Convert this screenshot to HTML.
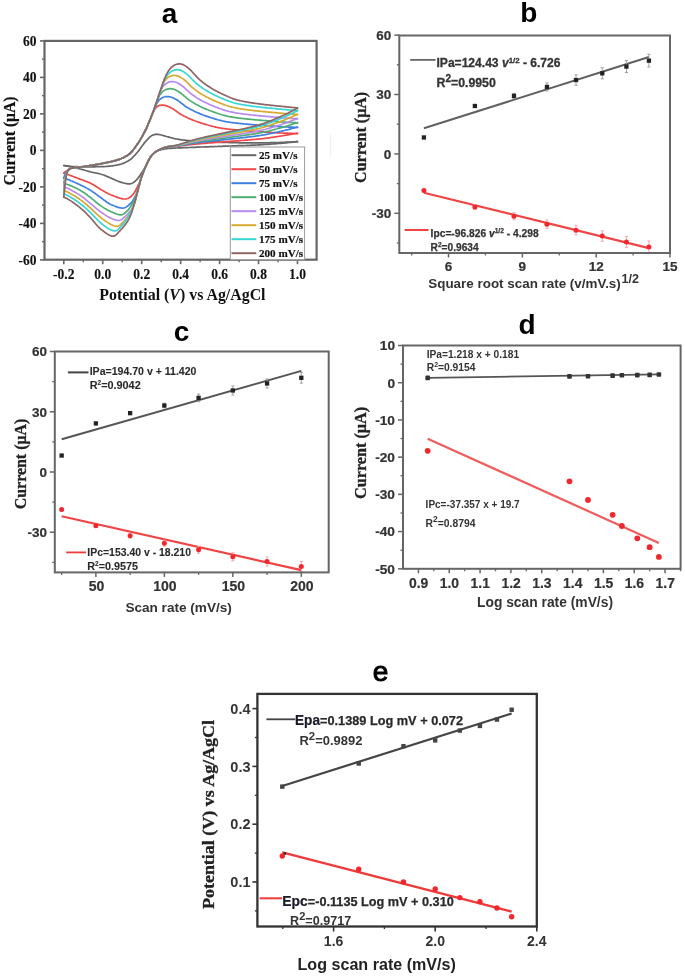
<!DOCTYPE html>
<html><head><meta charset="utf-8"><style>
html,body{margin:0;padding:0;background:#fff;width:685px;height:976px;overflow:hidden;}
svg{display:block;filter:blur(0.55px);}
</style></head><body>
<svg width="685" height="976" viewBox="0 0 685 976">
<rect width="685" height="976" fill="#fff"/>
<text x="169.50" y="22.50" font-family='"Liberation Sans", sans-serif' font-size="28.00" font-weight="bold" text-anchor="middle" fill="#000" >a</text>
<g fill="none" stroke-width="1.7" stroke-linejoin="round" stroke-linecap="round">
<path d="M63.8,165.5 L64.6,165.6 L65.4,165.8 L66.1,165.9 L66.9,166.1 L67.7,166.2 L68.5,166.2 L69.3,166.3 L70.0,166.4 L70.8,166.4 L71.6,166.5 L72.4,166.5 L73.1,166.6 L73.9,166.6 L74.7,166.6 L75.5,166.7 L76.3,166.7 L77.0,166.7 L77.8,166.7 L78.6,166.8 L79.4,166.8 L80.2,166.8 L80.9,166.8 L81.7,166.8 L82.5,166.8 L83.3,166.8 L84.1,166.8 L84.8,166.8 L85.6,166.8 L86.4,166.8 L87.2,166.8 L87.9,166.8 L88.7,166.8 L89.5,166.8 L90.3,166.8 L91.1,166.8 L91.8,166.8 L92.6,166.8 L93.4,166.8 L94.2,166.8 L95.0,166.8 L95.7,166.7 L96.5,166.7 L97.3,166.7 L98.1,166.7 L98.9,166.7 L99.6,166.7 L100.4,166.7 L101.2,166.7 L102.0,166.7 L102.8,166.6 L103.5,166.6 L104.3,166.6 L105.1,166.5 L105.9,166.5 L106.6,166.4 L107.4,166.4 L108.2,166.3 L109.0,166.2 L109.8,166.2 L110.5,166.1 L111.3,166.0 L112.1,165.9 L112.9,165.8 L113.7,165.6 L114.4,165.5 L115.2,165.4 L116.0,165.3 L116.8,165.1 L117.6,165.0 L118.3,164.8 L119.1,164.6 L119.9,164.4 L120.7,164.2 L121.4,164.0 L122.2,163.7 L123.0,163.4 L123.8,163.1 L124.6,162.8 L125.3,162.4 L126.1,162.0 L126.9,161.6 L127.7,161.2 L128.5,160.8 L129.2,160.3 L130.0,159.8 L130.8,159.2 L131.6,158.5 L132.4,157.8 L133.1,157.0 L133.9,156.2 L134.7,155.4 L135.5,154.5 L136.2,153.6 L137.0,152.7 L137.8,151.8 L138.6,150.9 L139.4,149.9 L140.1,148.8 L140.9,147.7 L141.7,146.6 L142.5,145.5 L143.3,144.4 L144.0,143.4 L144.8,142.4 L145.6,141.5 L146.4,140.6 L147.2,139.8 L147.9,138.9 L148.7,138.1 L149.5,137.4 L150.3,136.7 L151.0,136.1 L151.8,135.6 L152.6,135.2 L153.4,134.9 L154.2,134.7 L154.9,134.4 L155.7,134.3 L156.5,134.2 L157.3,134.3 L158.1,134.3 L158.8,134.5 L159.6,134.6 L160.4,134.8 L161.2,135.0 L162.0,135.2 L162.7,135.4 L163.5,135.6 L164.3,135.8 L165.1,136.1 L165.8,136.3 L166.6,136.5 L167.4,136.7 L168.2,136.9 L169.0,137.1 L169.7,137.4 L170.5,137.6 L171.3,137.8 L172.1,138.0 L172.9,138.2 L173.6,138.4 L174.4,138.6 L175.2,138.7 L176.0,138.9 L176.8,139.0 L177.5,139.2 L178.3,139.3 L179.1,139.4 L179.9,139.6 L180.6,139.7 L181.4,139.8 L182.2,139.9 L183.0,140.0 L183.8,140.1 L184.5,140.2 L185.3,140.3 L186.1,140.3 L186.9,140.4 L187.7,140.5 L188.4,140.5 L189.2,140.6 L190.0,140.6 L190.8,140.7 L191.6,140.8 L192.3,140.8 L193.1,140.9 L193.9,140.9 L194.7,141.0 L195.5,141.0 L196.2,141.1 L197.0,141.1 L197.8,141.1 L198.6,141.2 L199.3,141.2 L200.1,141.3 L200.9,141.3 L201.7,141.4 L202.5,141.4 L203.2,141.4 L204.0,141.5 L204.8,141.5 L205.6,141.6 L206.4,141.6 L207.1,141.7 L207.9,141.7 L208.7,141.7 L209.5,141.8 L210.3,141.8 L211.0,141.9 L211.8,141.9 L212.6,141.9 L213.4,142.0 L214.1,142.0 L214.9,142.0 L215.7,142.1 L216.5,142.1 L217.3,142.1 L218.0,142.2 L218.8,142.2 L219.6,142.2 L220.4,142.3 L221.2,142.3 L221.9,142.3 L222.7,142.4 L223.5,142.4 L224.3,142.4 L225.1,142.4 L225.8,142.5 L226.6,142.5 L227.4,142.5 L228.2,142.5 L228.9,142.5 L229.7,142.6 L230.5,142.6 L231.3,142.6 L232.1,142.6 L232.8,142.6 L233.6,142.6 L234.4,142.7 L235.2,142.7 L236.0,142.7 L236.7,142.7 L237.5,142.7 L238.3,142.7 L239.1,142.8 L239.9,142.8 L240.6,142.8 L241.4,142.8 L242.2,142.8 L243.0,142.8 L243.7,142.8 L244.5,142.8 L245.3,142.9 L246.1,142.9 L246.9,142.9 L247.6,142.9 L248.4,142.9 L249.2,142.9 L250.0,142.9 L250.8,142.9 L251.5,142.9 L252.3,142.9 L253.1,142.9 L253.9,142.9 L254.7,142.9 L255.4,142.9 L256.2,142.9 L257.0,142.9 L257.8,142.9 L258.6,142.9 L259.3,142.9 L260.1,142.9 L260.9,142.9 L261.7,142.9 L262.4,142.9 L263.2,142.9 L264.0,142.9 L264.8,142.8 L265.6,142.8 L266.3,142.8 L267.1,142.8 L267.9,142.8 L268.7,142.8 L269.5,142.8 L270.2,142.7 L271.0,142.7 L271.8,142.7 L272.6,142.7 L273.4,142.7 L274.1,142.6 L274.9,142.6 L275.7,142.6 L276.5,142.6 L277.2,142.6 L278.0,142.5 L278.8,142.5 L279.6,142.5 L280.4,142.4 L281.1,142.4 L281.9,142.4 L282.7,142.4 L283.5,142.3 L284.3,142.3 L285.0,142.3 L285.8,142.2 L286.6,142.2 L287.4,142.2 L288.2,142.1 L288.9,142.1 L289.7,142.1 L290.5,142.0 L291.3,142.0 L292.0,141.9 L292.8,141.9 L293.6,141.9 L294.4,141.8 L295.2,141.8 L295.9,141.7 L296.7,141.7 L297.5,141.7" stroke="#666666"/>
<path d="M63.8,165.5 L64.6,165.5 L65.4,165.7 L66.1,165.8 L66.9,166.0 L67.7,166.1 L68.5,166.3 L69.3,166.4 L70.0,166.6 L70.8,166.8 L71.6,166.9 L72.4,167.1 L73.1,167.3 L73.9,167.5 L74.7,167.7 L75.5,167.8 L76.3,168.0 L77.0,168.2 L77.8,168.4 L78.6,168.6 L79.4,168.8 L80.2,169.0 L80.9,169.2 L81.7,169.4 L82.5,169.6 L83.3,169.8 L84.1,170.0 L84.8,170.3 L85.6,170.5 L86.4,170.7 L87.2,171.0 L87.9,171.2 L88.7,171.4 L89.5,171.6 L90.3,171.8 L91.1,172.0 L91.8,172.2 L92.6,172.4 L93.4,172.5 L94.2,172.7 L95.0,172.8 L95.7,173.0 L96.5,173.1 L97.3,173.3 L98.1,173.5 L98.9,173.6 L99.6,173.8 L100.4,174.0 L101.2,174.3 L102.0,174.5 L102.8,174.8 L103.5,175.0 L104.3,175.3 L105.1,175.6 L105.9,175.9 L106.6,176.3 L107.4,176.6 L108.2,176.9 L109.0,177.2 L109.8,177.6 L110.5,177.9 L111.3,178.2 L112.1,178.6 L112.9,178.9 L113.7,179.3 L114.4,179.6 L115.2,180.0 L116.0,180.3 L116.8,180.7 L117.6,181.0 L118.3,181.3 L119.1,181.6 L119.9,181.9 L120.7,182.1 L121.4,182.4 L122.2,182.6 L123.0,182.8 L123.8,183.0 L124.6,183.2 L125.3,183.4 L126.1,183.5 L126.9,183.7 L127.7,183.8 L128.5,183.9 L129.2,183.9 L130.0,183.9 L130.8,183.7 L131.6,183.5 L132.4,183.1 L133.1,182.7 L133.9,182.1 L134.7,181.5 L135.5,180.8 L136.2,180.1 L137.0,179.3 L137.8,178.4 L138.6,177.4 L139.4,176.4 L140.1,175.2 L140.9,174.0 L141.7,172.8 L142.5,171.6 L143.3,170.3 L144.0,169.1 L144.8,167.7 L145.6,166.4 L146.4,165.0 L147.2,163.5 L147.9,162.0 L148.7,160.5 L149.5,159.0 L150.3,157.7 L151.0,156.5 L151.8,155.5 L152.6,154.7 L153.4,153.9 L154.2,153.2 L154.9,152.6 L155.7,152.1 L156.5,151.6 L157.3,151.1 L158.1,150.8 L158.8,150.4 L159.6,150.2 L160.4,149.9 L161.2,149.7 L162.0,149.5 L162.7,149.3 L163.5,149.2 L164.3,149.0 L165.1,148.9 L165.8,148.8 L166.6,148.7 L167.4,148.6 L168.2,148.5 L169.0,148.5 L169.7,148.4 L170.5,148.3 L171.3,148.3 L172.1,148.2 L172.9,148.2 L173.6,148.2 L174.4,148.1 L175.2,148.1 L176.0,148.0 L176.8,148.0 L177.5,148.0 L178.3,147.9 L179.1,147.9 L179.9,147.9 L180.6,147.8 L181.4,147.8 L182.2,147.8 L183.0,147.7 L183.8,147.7 L184.5,147.7 L185.3,147.7 L186.1,147.6 L186.9,147.6 L187.7,147.6 L188.4,147.5 L189.2,147.5 L190.0,147.5 L190.8,147.4 L191.6,147.4 L192.3,147.4 L193.1,147.3 L193.9,147.3 L194.7,147.3 L195.5,147.3 L196.2,147.2 L197.0,147.2 L197.8,147.2 L198.6,147.1 L199.3,147.1 L200.1,147.1 L200.9,147.0 L201.7,147.0 L202.5,147.0 L203.2,147.0 L204.0,146.9 L204.8,146.9 L205.6,146.9 L206.4,146.8 L207.1,146.8 L207.9,146.8 L208.7,146.8 L209.5,146.7 L210.3,146.7 L211.0,146.7 L211.8,146.6 L212.6,146.6 L213.4,146.6 L214.1,146.6 L214.9,146.5 L215.7,146.5 L216.5,146.5 L217.3,146.5 L218.0,146.4 L218.8,146.4 L219.6,146.4 L220.4,146.3 L221.2,146.3 L221.9,146.3 L222.7,146.3 L223.5,146.2 L224.3,146.2 L225.1,146.2 L225.8,146.1 L226.6,146.1 L227.4,146.1 L228.2,146.1 L228.9,146.0 L229.7,146.0 L230.5,146.0 L231.3,146.0 L232.1,145.9 L232.8,145.9 L233.6,145.9 L234.4,145.8 L235.2,145.8 L236.0,145.8 L236.7,145.8 L237.5,145.7 L238.3,145.7 L239.1,145.7 L239.9,145.7 L240.6,145.6 L241.4,145.6 L242.2,145.6 L243.0,145.6 L243.7,145.5 L244.5,145.5 L245.3,145.5 L246.1,145.5 L246.9,145.4 L247.6,145.4 L248.4,145.4 L249.2,145.3 L250.0,145.3 L250.8,145.3 L251.5,145.2 L252.3,145.2 L253.1,145.2 L253.9,145.1 L254.7,145.1 L255.4,145.1 L256.2,145.0 L257.0,145.0 L257.8,144.9 L258.6,144.9 L259.3,144.9 L260.1,144.8 L260.9,144.8 L261.7,144.7 L262.4,144.7 L263.2,144.6 L264.0,144.6 L264.8,144.5 L265.6,144.5 L266.3,144.4 L267.1,144.4 L267.9,144.3 L268.7,144.3 L269.5,144.2 L270.2,144.2 L271.0,144.1 L271.8,144.0 L272.6,144.0 L273.4,143.9 L274.1,143.9 L274.9,143.8 L275.7,143.7 L276.5,143.7 L277.2,143.6 L278.0,143.5 L278.8,143.5 L279.6,143.4 L280.4,143.3 L281.1,143.3 L281.9,143.2 L282.7,143.1 L283.5,143.1 L284.3,143.0 L285.0,142.9 L285.8,142.8 L286.6,142.8 L287.4,142.7 L288.2,142.6 L288.9,142.5 L289.7,142.5 L290.5,142.4 L291.3,142.3 L292.0,142.2 L292.8,142.1 L293.6,142.1 L294.4,142.0 L295.2,141.9 L295.9,141.8 L296.7,141.7 L297.5,141.7" stroke="#666666"/>
<path d="M63.8,173.0 L64.6,172.2 L65.4,171.6 L66.1,171.1 L66.9,170.7 L67.7,170.2 L68.5,169.8 L69.3,169.4 L70.0,168.9 L70.8,168.4 L71.6,168.2 L72.4,168.1 L73.1,167.9 L73.9,167.8 L74.7,167.7 L75.5,167.6 L76.3,167.5 L77.0,167.4 L77.8,167.3 L78.6,167.2 L79.4,167.1 L80.2,167.0 L80.9,167.0 L81.7,166.9 L82.5,166.8 L83.3,166.6 L84.1,166.5 L84.8,166.4 L85.6,166.3 L86.4,166.2 L87.2,166.0 L87.9,165.9 L88.7,165.8 L89.5,165.7 L90.3,165.5 L91.1,165.4 L91.8,165.3 L92.6,165.2 L93.4,165.0 L94.2,164.9 L95.0,164.8 L95.7,164.6 L96.5,164.5 L97.3,164.4 L98.1,164.2 L98.9,164.1 L99.6,164.0 L100.4,163.8 L101.2,163.7 L102.0,163.5 L102.8,163.4 L103.5,163.2 L104.3,163.1 L105.1,162.9 L105.9,162.7 L106.6,162.6 L107.4,162.4 L108.2,162.3 L109.0,162.1 L109.8,161.9 L110.5,161.8 L111.3,161.6 L112.1,161.4 L112.9,161.2 L113.7,161.0 L114.4,160.8 L115.2,160.6 L116.0,160.4 L116.8,160.1 L117.6,159.9 L118.3,159.6 L119.1,159.4 L119.9,159.1 L120.7,158.8 L121.4,158.5 L122.2,158.1 L123.0,157.8 L123.8,157.4 L124.6,157.0 L125.3,156.6 L126.1,156.2 L126.9,155.7 L127.7,155.2 L128.5,154.7 L129.2,154.1 L130.0,153.5 L130.8,152.7 L131.6,151.9 L132.4,151.0 L133.1,150.0 L133.9,149.0 L134.7,147.9 L135.5,146.8 L136.2,145.7 L137.0,144.7 L137.8,143.5 L138.6,142.4 L139.4,141.2 L140.1,139.9 L140.9,138.6 L141.7,137.3 L142.5,135.9 L143.3,134.5 L144.0,133.0 L144.8,131.5 L145.6,130.0 L146.4,128.4 L147.2,126.6 L147.9,124.8 L148.7,123.0 L149.5,121.1 L150.3,119.2 L151.0,117.3 L151.8,115.5 L152.6,113.6 L153.4,111.9 L154.2,110.3 L154.9,109.0 L155.7,107.9 L156.5,107.1 L157.3,106.5 L158.1,106.0 L158.8,105.7 L159.6,105.4 L160.4,105.3 L161.2,105.2 L162.0,105.1 L162.7,105.2 L163.5,105.2 L164.3,105.3 L165.1,105.4 L165.8,105.6 L166.6,105.9 L167.4,106.1 L168.2,106.5 L169.0,106.8 L169.7,107.2 L170.5,107.6 L171.3,107.9 L172.1,108.4 L172.9,108.8 L173.6,109.3 L174.4,109.9 L175.2,110.4 L176.0,111.0 L176.8,111.5 L177.5,112.1 L178.3,112.6 L179.1,113.2 L179.9,113.7 L180.6,114.2 L181.4,114.6 L182.2,115.1 L183.0,115.5 L183.8,115.9 L184.5,116.3 L185.3,116.7 L186.1,117.1 L186.9,117.5 L187.7,117.8 L188.4,118.2 L189.2,118.5 L190.0,118.9 L190.8,119.2 L191.6,119.5 L192.3,119.9 L193.1,120.2 L193.9,120.5 L194.7,120.8 L195.5,121.0 L196.2,121.3 L197.0,121.6 L197.8,121.9 L198.6,122.2 L199.3,122.4 L200.1,122.7 L200.9,122.9 L201.7,123.2 L202.5,123.4 L203.2,123.7 L204.0,123.9 L204.8,124.1 L205.6,124.4 L206.4,124.6 L207.1,124.8 L207.9,125.0 L208.7,125.3 L209.5,125.5 L210.3,125.7 L211.0,125.9 L211.8,126.1 L212.6,126.3 L213.4,126.5 L214.1,126.7 L214.9,126.9 L215.7,127.1 L216.5,127.3 L217.3,127.5 L218.0,127.6 L218.8,127.8 L219.6,127.9 L220.4,128.0 L221.2,128.2 L221.9,128.3 L222.7,128.4 L223.5,128.5 L224.3,128.6 L225.1,128.7 L225.8,128.8 L226.6,128.9 L227.4,129.0 L228.2,129.1 L228.9,129.2 L229.7,129.3 L230.5,129.4 L231.3,129.5 L232.1,129.5 L232.8,129.6 L233.6,129.7 L234.4,129.8 L235.2,129.8 L236.0,129.9 L236.7,130.0 L237.5,130.1 L238.3,130.1 L239.1,130.2 L239.9,130.3 L240.6,130.3 L241.4,130.4 L242.2,130.5 L243.0,130.5 L243.7,130.6 L244.5,130.7 L245.3,130.7 L246.1,130.8 L246.9,130.8 L247.6,130.9 L248.4,130.9 L249.2,131.0 L250.0,131.1 L250.8,131.1 L251.5,131.2 L252.3,131.2 L253.1,131.3 L253.9,131.3 L254.7,131.4 L255.4,131.4 L256.2,131.5 L257.0,131.5 L257.8,131.6 L258.6,131.6 L259.3,131.7 L260.1,131.7 L260.9,131.8 L261.7,131.8 L262.4,131.9 L263.2,131.9 L264.0,132.0 L264.8,132.0 L265.6,132.1 L266.3,132.1 L267.1,132.2 L267.9,132.2 L268.7,132.3 L269.5,132.3 L270.2,132.4 L271.0,132.4 L271.8,132.5 L272.6,132.5 L273.4,132.6 L274.1,132.6 L274.9,132.7 L275.7,132.7 L276.5,132.8 L277.2,132.8 L278.0,132.9 L278.8,132.9 L279.6,132.9 L280.4,133.0 L281.1,133.0 L281.9,133.0 L282.7,133.1 L283.5,133.1 L284.3,133.1 L285.0,133.2 L285.8,133.2 L286.6,133.2 L287.4,133.2 L288.2,133.3 L288.9,133.3 L289.7,133.3 L290.5,133.4 L291.3,133.4 L292.0,133.4 L292.8,133.4 L293.6,133.5 L294.4,133.5 L295.2,133.5 L295.9,133.6 L296.7,133.6 L297.5,133.6" stroke="#f04848"/>
<path d="M63.8,173.2 L64.6,173.4 L65.4,173.6 L66.1,173.9 L66.9,174.2 L67.7,174.5 L68.5,174.8 L69.3,175.0 L70.0,175.3 L70.8,175.6 L71.6,175.9 L72.4,176.2 L73.1,176.5 L73.9,176.8 L74.7,177.1 L75.5,177.4 L76.3,177.7 L77.0,178.0 L77.8,178.3 L78.6,178.6 L79.4,178.9 L80.2,179.2 L80.9,179.4 L81.7,179.7 L82.5,180.0 L83.3,180.3 L84.1,180.6 L84.8,180.9 L85.6,181.2 L86.4,181.5 L87.2,181.8 L87.9,182.1 L88.7,182.4 L89.5,182.7 L90.3,183.1 L91.1,183.5 L91.8,183.9 L92.6,184.3 L93.4,184.8 L94.2,185.3 L95.0,185.7 L95.7,186.2 L96.5,186.8 L97.3,187.3 L98.1,187.8 L98.9,188.3 L99.6,188.7 L100.4,189.2 L101.2,189.7 L102.0,190.1 L102.8,190.6 L103.5,191.0 L104.3,191.5 L105.1,191.9 L105.9,192.4 L106.6,192.8 L107.4,193.2 L108.2,193.6 L109.0,194.0 L109.8,194.3 L110.5,194.7 L111.3,195.0 L112.1,195.3 L112.9,195.6 L113.7,195.9 L114.4,196.2 L115.2,196.5 L116.0,196.8 L116.8,197.1 L117.6,197.4 L118.3,197.7 L119.1,197.9 L119.9,198.2 L120.7,198.4 L121.4,198.6 L122.2,198.7 L123.0,198.9 L123.8,199.0 L124.6,199.0 L125.3,199.0 L126.1,199.0 L126.9,198.8 L127.7,198.5 L128.5,198.2 L129.2,197.8 L130.0,197.3 L130.8,196.7 L131.6,196.0 L132.4,195.2 L133.1,194.3 L133.9,193.3 L134.7,192.0 L135.5,190.7 L136.2,189.2 L137.0,187.6 L137.8,186.0 L138.6,184.3 L139.4,182.6 L140.1,180.8 L140.9,178.9 L141.7,177.0 L142.5,174.9 L143.3,172.8 L144.0,170.7 L144.8,168.7 L145.6,166.7 L146.4,164.9 L147.2,163.2 L147.9,161.6 L148.7,160.0 L149.5,158.6 L150.3,157.3 L151.0,156.2 L151.8,155.2 L152.6,154.3 L153.4,153.6 L154.2,152.9 L154.9,152.3 L155.7,151.7 L156.5,151.2 L157.3,150.7 L158.1,150.3 L158.8,149.9 L159.6,149.5 L160.4,149.1 L161.2,148.8 L162.0,148.4 L162.7,148.1 L163.5,147.8 L164.3,147.5 L165.1,147.3 L165.8,147.1 L166.6,146.9 L167.4,146.8 L168.2,146.7 L169.0,146.7 L169.7,146.6 L170.5,146.6 L171.3,146.5 L172.1,146.5 L172.9,146.5 L173.6,146.4 L174.4,146.4 L175.2,146.3 L176.0,146.3 L176.8,146.2 L177.5,146.1 L178.3,146.0 L179.1,146.0 L179.9,145.9 L180.6,145.8 L181.4,145.7 L182.2,145.6 L183.0,145.5 L183.8,145.4 L184.5,145.3 L185.3,145.2 L186.1,145.1 L186.9,145.0 L187.7,145.0 L188.4,144.9 L189.2,144.8 L190.0,144.7 L190.8,144.6 L191.6,144.5 L192.3,144.5 L193.1,144.4 L193.9,144.3 L194.7,144.2 L195.5,144.2 L196.2,144.1 L197.0,144.0 L197.8,143.9 L198.6,143.9 L199.3,143.8 L200.1,143.7 L200.9,143.7 L201.7,143.6 L202.5,143.5 L203.2,143.5 L204.0,143.4 L204.8,143.3 L205.6,143.3 L206.4,143.2 L207.1,143.2 L207.9,143.1 L208.7,143.0 L209.5,143.0 L210.3,142.9 L211.0,142.8 L211.8,142.8 L212.6,142.7 L213.4,142.7 L214.1,142.6 L214.9,142.6 L215.7,142.5 L216.5,142.4 L217.3,142.4 L218.0,142.3 L218.8,142.3 L219.6,142.2 L220.4,142.1 L221.2,142.1 L221.9,142.0 L222.7,142.0 L223.5,141.9 L224.3,141.8 L225.1,141.8 L225.8,141.7 L226.6,141.7 L227.4,141.6 L228.2,141.5 L228.9,141.5 L229.7,141.4 L230.5,141.4 L231.3,141.3 L232.1,141.2 L232.8,141.2 L233.6,141.1 L234.4,141.1 L235.2,141.0 L236.0,140.9 L236.7,140.9 L237.5,140.8 L238.3,140.8 L239.1,140.7 L239.9,140.7 L240.6,140.6 L241.4,140.5 L242.2,140.5 L243.0,140.4 L243.7,140.4 L244.5,140.3 L245.3,140.2 L246.1,140.2 L246.9,140.1 L247.6,140.1 L248.4,140.0 L249.2,139.9 L250.0,139.9 L250.8,139.8 L251.5,139.7 L252.3,139.7 L253.1,139.6 L253.9,139.5 L254.7,139.5 L255.4,139.4 L256.2,139.3 L257.0,139.2 L257.8,139.2 L258.6,139.1 L259.3,139.0 L260.1,138.9 L260.9,138.8 L261.7,138.8 L262.4,138.7 L263.2,138.6 L264.0,138.5 L264.8,138.4 L265.6,138.3 L266.3,138.2 L267.1,138.1 L267.9,138.0 L268.7,137.9 L269.5,137.8 L270.2,137.6 L271.0,137.5 L271.8,137.4 L272.6,137.3 L273.4,137.2 L274.1,137.1 L274.9,137.0 L275.7,136.8 L276.5,136.7 L277.2,136.6 L278.0,136.5 L278.8,136.4 L279.6,136.2 L280.4,136.1 L281.1,136.0 L281.9,135.9 L282.7,135.7 L283.5,135.6 L284.3,135.5 L285.0,135.3 L285.8,135.2 L286.6,135.1 L287.4,134.9 L288.2,134.8 L288.9,134.7 L289.7,134.5 L290.5,134.4 L291.3,134.2 L292.0,134.1 L292.8,134.0 L293.6,133.8 L294.4,133.7 L295.2,133.5 L295.9,133.4 L296.7,133.3 L297.5,133.2" stroke="#f04848"/>
<path d="M63.8,178.0 L64.6,175.6 L65.4,173.7 L66.1,172.3 L66.9,171.2 L67.7,170.4 L68.5,169.8 L69.3,169.2 L70.0,168.8 L70.8,168.4 L71.6,168.2 L72.4,168.1 L73.1,167.9 L73.9,167.8 L74.7,167.7 L75.5,167.6 L76.3,167.5 L77.0,167.4 L77.8,167.3 L78.6,167.2 L79.4,167.1 L80.2,167.0 L80.9,167.0 L81.7,166.9 L82.5,166.8 L83.3,166.6 L84.1,166.5 L84.8,166.4 L85.6,166.3 L86.4,166.2 L87.2,166.0 L87.9,165.9 L88.7,165.8 L89.5,165.7 L90.3,165.5 L91.1,165.4 L91.8,165.3 L92.6,165.2 L93.4,165.0 L94.2,164.9 L95.0,164.8 L95.7,164.6 L96.5,164.5 L97.3,164.4 L98.1,164.2 L98.9,164.1 L99.6,164.0 L100.4,163.8 L101.2,163.7 L102.0,163.5 L102.8,163.4 L103.5,163.2 L104.3,163.1 L105.1,162.9 L105.9,162.7 L106.6,162.6 L107.4,162.4 L108.2,162.3 L109.0,162.1 L109.8,161.9 L110.5,161.8 L111.3,161.6 L112.1,161.4 L112.9,161.2 L113.7,161.0 L114.4,160.8 L115.2,160.6 L116.0,160.4 L116.8,160.1 L117.6,159.9 L118.3,159.6 L119.1,159.4 L119.9,159.1 L120.7,158.8 L121.4,158.5 L122.2,158.1 L123.0,157.8 L123.8,157.4 L124.6,157.0 L125.3,156.6 L126.1,156.2 L126.9,155.7 L127.7,155.2 L128.5,154.7 L129.2,154.1 L130.0,153.5 L130.8,152.7 L131.6,151.9 L132.4,151.0 L133.1,150.0 L133.9,149.0 L134.7,147.9 L135.5,146.8 L136.2,145.7 L137.0,144.7 L137.8,143.5 L138.6,142.4 L139.4,141.2 L140.1,139.9 L140.9,138.6 L141.7,137.3 L142.5,135.9 L143.3,134.5 L144.0,133.0 L144.8,131.5 L145.6,130.0 L146.4,128.3 L147.2,126.6 L147.9,124.8 L148.7,123.0 L149.5,121.1 L150.3,119.2 L151.0,117.2 L151.8,115.3 L152.6,113.3 L153.4,111.4 L154.2,109.4 L154.9,107.5 L155.7,105.7 L156.5,104.0 L157.3,102.5 L158.1,101.4 L158.8,100.4 L159.6,99.6 L160.4,99.0 L161.2,98.4 L162.0,97.9 L162.7,97.5 L163.5,97.2 L164.3,97.0 L165.1,96.8 L165.8,96.6 L166.6,96.6 L167.4,96.6 L168.2,96.6 L169.0,96.7 L169.7,96.8 L170.5,97.0 L171.3,97.2 L172.1,97.5 L172.9,97.8 L173.6,98.2 L174.4,98.6 L175.2,99.0 L176.0,99.4 L176.8,99.8 L177.5,100.3 L178.3,100.9 L179.1,101.4 L179.9,102.0 L180.6,102.6 L181.4,103.2 L182.2,103.8 L183.0,104.4 L183.8,105.0 L184.5,105.6 L185.3,106.2 L186.1,106.7 L186.9,107.2 L187.7,107.6 L188.4,108.1 L189.2,108.5 L190.0,109.0 L190.8,109.4 L191.6,109.8 L192.3,110.2 L193.1,110.6 L193.9,111.0 L194.7,111.4 L195.5,111.8 L196.2,112.1 L197.0,112.5 L197.8,112.8 L198.6,113.1 L199.3,113.4 L200.1,113.8 L200.9,114.1 L201.7,114.4 L202.5,114.7 L203.2,115.0 L204.0,115.3 L204.8,115.6 L205.6,115.8 L206.4,116.1 L207.1,116.4 L207.9,116.6 L208.7,116.9 L209.5,117.2 L210.3,117.4 L211.0,117.7 L211.8,117.9 L212.6,118.2 L213.4,118.4 L214.1,118.6 L214.9,118.9 L215.7,119.1 L216.5,119.4 L217.3,119.6 L218.0,119.8 L218.8,120.0 L219.6,120.2 L220.4,120.4 L221.2,120.6 L221.9,120.8 L222.7,121.0 L223.5,121.2 L224.3,121.3 L225.1,121.5 L225.8,121.6 L226.6,121.8 L227.4,121.9 L228.2,122.0 L228.9,122.1 L229.7,122.2 L230.5,122.4 L231.3,122.5 L232.1,122.6 L232.8,122.7 L233.6,122.8 L234.4,122.9 L235.2,123.0 L236.0,123.1 L236.7,123.1 L237.5,123.2 L238.3,123.3 L239.1,123.4 L239.9,123.5 L240.6,123.6 L241.4,123.6 L242.2,123.7 L243.0,123.8 L243.7,123.9 L244.5,124.0 L245.3,124.0 L246.1,124.1 L246.9,124.2 L247.6,124.2 L248.4,124.3 L249.2,124.4 L250.0,124.4 L250.8,124.5 L251.5,124.6 L252.3,124.6 L253.1,124.7 L253.9,124.8 L254.7,124.8 L255.4,124.9 L256.2,124.9 L257.0,125.0 L257.8,125.0 L258.6,125.1 L259.3,125.2 L260.1,125.2 L260.9,125.3 L261.7,125.3 L262.4,125.4 L263.2,125.4 L264.0,125.5 L264.8,125.5 L265.6,125.6 L266.3,125.7 L267.1,125.7 L267.9,125.8 L268.7,125.8 L269.5,125.9 L270.2,125.9 L271.0,126.0 L271.8,126.1 L272.6,126.1 L273.4,126.2 L274.1,126.2 L274.9,126.3 L275.7,126.3 L276.5,126.4 L277.2,126.4 L278.0,126.5 L278.8,126.6 L279.6,126.6 L280.4,126.6 L281.1,126.7 L281.9,126.7 L282.7,126.8 L283.5,126.8 L284.3,126.9 L285.0,126.9 L285.8,127.0 L286.6,127.0 L287.4,127.0 L288.2,127.1 L288.9,127.1 L289.7,127.1 L290.5,127.2 L291.3,127.2 L292.0,127.2 L292.8,127.2 L293.6,127.3 L294.4,127.3 L295.2,127.3 L295.9,127.4 L296.7,127.4 L297.5,127.4" stroke="#3f7fe0"/>
<path d="M63.8,178.2 L64.6,178.3 L65.4,178.6 L66.1,178.8 L66.9,179.1 L67.7,179.4 L68.5,179.7 L69.3,180.0 L70.0,180.3 L70.8,180.7 L71.6,181.0 L72.4,181.3 L73.1,181.6 L73.9,182.0 L74.7,182.3 L75.5,182.7 L76.3,183.0 L77.0,183.4 L77.8,183.7 L78.6,184.1 L79.4,184.4 L80.2,184.8 L80.9,185.2 L81.7,185.6 L82.5,185.9 L83.3,186.3 L84.1,186.7 L84.8,187.1 L85.6,187.5 L86.4,187.9 L87.2,188.4 L87.9,188.8 L88.7,189.2 L89.5,189.7 L90.3,190.2 L91.1,190.6 L91.8,191.1 L92.6,191.7 L93.4,192.2 L94.2,192.8 L95.0,193.3 L95.7,193.9 L96.5,194.5 L97.3,195.1 L98.1,195.7 L98.9,196.2 L99.6,196.8 L100.4,197.4 L101.2,198.0 L102.0,198.5 L102.8,199.1 L103.5,199.7 L104.3,200.3 L105.1,200.8 L105.9,201.4 L106.6,202.0 L107.4,202.5 L108.2,203.0 L109.0,203.5 L109.8,203.9 L110.5,204.3 L111.3,204.7 L112.1,205.0 L112.9,205.3 L113.7,205.7 L114.4,206.0 L115.2,206.3 L116.0,206.6 L116.8,206.9 L117.6,207.1 L118.3,207.4 L119.1,207.6 L119.9,207.8 L120.7,207.9 L121.4,208.0 L122.2,208.1 L123.0,208.1 L123.8,208.0 L124.6,207.8 L125.3,207.5 L126.1,207.1 L126.9,206.6 L127.7,206.0 L128.5,205.4 L129.2,204.7 L130.0,204.0 L130.8,203.1 L131.6,202.2 L132.4,201.2 L133.1,200.1 L133.9,198.8 L134.7,197.5 L135.5,196.0 L136.2,194.3 L137.0,192.3 L137.8,190.0 L138.6,187.4 L139.4,184.6 L140.1,181.8 L140.9,179.1 L141.7,176.6 L142.5,174.3 L143.3,172.2 L144.0,170.3 L144.8,168.4 L145.6,166.6 L146.4,164.9 L147.2,163.2 L147.9,161.6 L148.7,160.0 L149.5,158.6 L150.3,157.3 L151.0,156.2 L151.8,155.2 L152.6,154.3 L153.4,153.6 L154.2,152.9 L154.9,152.3 L155.7,151.7 L156.5,151.2 L157.3,150.7 L158.1,150.3 L158.8,149.9 L159.6,149.5 L160.4,149.1 L161.2,148.8 L162.0,148.5 L162.7,148.1 L163.5,147.8 L164.3,147.6 L165.1,147.3 L165.8,147.1 L166.6,147.0 L167.4,146.8 L168.2,146.7 L169.0,146.6 L169.7,146.6 L170.5,146.5 L171.3,146.4 L172.1,146.4 L172.9,146.3 L173.6,146.3 L174.4,146.2 L175.2,146.1 L176.0,146.0 L176.8,145.9 L177.5,145.8 L178.3,145.7 L179.1,145.6 L179.9,145.5 L180.6,145.4 L181.4,145.2 L182.2,145.1 L183.0,145.0 L183.8,144.8 L184.5,144.7 L185.3,144.6 L186.1,144.4 L186.9,144.3 L187.7,144.2 L188.4,144.0 L189.2,143.9 L190.0,143.8 L190.8,143.7 L191.6,143.6 L192.3,143.5 L193.1,143.4 L193.9,143.2 L194.7,143.1 L195.5,143.0 L196.2,142.9 L197.0,142.8 L197.8,142.7 L198.6,142.6 L199.3,142.5 L200.1,142.4 L200.9,142.3 L201.7,142.2 L202.5,142.1 L203.2,142.0 L204.0,141.9 L204.8,141.8 L205.6,141.7 L206.4,141.7 L207.1,141.6 L207.9,141.5 L208.7,141.4 L209.5,141.3 L210.3,141.2 L211.0,141.1 L211.8,141.0 L212.6,141.0 L213.4,140.9 L214.1,140.8 L214.9,140.7 L215.7,140.6 L216.5,140.5 L217.3,140.5 L218.0,140.4 L218.8,140.3 L219.6,140.2 L220.4,140.1 L221.2,140.0 L221.9,139.9 L222.7,139.9 L223.5,139.8 L224.3,139.7 L225.1,139.6 L225.8,139.5 L226.6,139.4 L227.4,139.3 L228.2,139.3 L228.9,139.2 L229.7,139.1 L230.5,139.0 L231.3,138.9 L232.1,138.8 L232.8,138.7 L233.6,138.6 L234.4,138.6 L235.2,138.5 L236.0,138.4 L236.7,138.3 L237.5,138.2 L238.3,138.1 L239.1,138.1 L239.9,138.0 L240.6,137.9 L241.4,137.8 L242.2,137.7 L243.0,137.6 L243.7,137.6 L244.5,137.5 L245.3,137.4 L246.1,137.3 L246.9,137.2 L247.6,137.1 L248.4,137.0 L249.2,136.9 L250.0,136.8 L250.8,136.7 L251.5,136.6 L252.3,136.6 L253.1,136.5 L253.9,136.4 L254.7,136.3 L255.4,136.1 L256.2,136.0 L257.0,135.9 L257.8,135.8 L258.6,135.7 L259.3,135.6 L260.1,135.5 L260.9,135.4 L261.7,135.2 L262.4,135.1 L263.2,135.0 L264.0,134.8 L264.8,134.7 L265.6,134.6 L266.3,134.4 L267.1,134.3 L267.9,134.1 L268.7,134.0 L269.5,133.8 L270.2,133.6 L271.0,133.5 L271.8,133.3 L272.6,133.2 L273.4,133.0 L274.1,132.8 L274.9,132.6 L275.7,132.5 L276.5,132.3 L277.2,132.1 L278.0,132.0 L278.8,131.8 L279.6,131.6 L280.4,131.4 L281.1,131.3 L281.9,131.1 L282.7,130.9 L283.5,130.7 L284.3,130.5 L285.0,130.3 L285.8,130.1 L286.6,129.9 L287.4,129.8 L288.2,129.6 L288.9,129.4 L289.7,129.2 L290.5,128.9 L291.3,128.7 L292.0,128.5 L292.8,128.3 L293.6,128.1 L294.4,127.9 L295.2,127.7 L295.9,127.5 L296.7,127.3 L297.5,127.2" stroke="#3f7fe0"/>
<path d="M63.8,183.2 L64.6,179.2 L65.4,176.0 L66.1,173.5 L66.9,171.8 L67.7,170.6 L68.5,169.8 L69.3,169.1 L70.0,168.7 L70.8,168.4 L71.6,168.2 L72.4,168.1 L73.1,167.9 L73.9,167.8 L74.7,167.7 L75.5,167.6 L76.3,167.5 L77.0,167.4 L77.8,167.3 L78.6,167.2 L79.4,167.1 L80.2,167.0 L80.9,167.0 L81.7,166.9 L82.5,166.8 L83.3,166.6 L84.1,166.5 L84.8,166.4 L85.6,166.3 L86.4,166.2 L87.2,166.0 L87.9,165.9 L88.7,165.8 L89.5,165.7 L90.3,165.5 L91.1,165.4 L91.8,165.3 L92.6,165.2 L93.4,165.0 L94.2,164.9 L95.0,164.8 L95.7,164.6 L96.5,164.5 L97.3,164.4 L98.1,164.2 L98.9,164.1 L99.6,164.0 L100.4,163.8 L101.2,163.7 L102.0,163.5 L102.8,163.4 L103.5,163.2 L104.3,163.1 L105.1,162.9 L105.9,162.7 L106.6,162.6 L107.4,162.4 L108.2,162.3 L109.0,162.1 L109.8,161.9 L110.5,161.8 L111.3,161.6 L112.1,161.4 L112.9,161.2 L113.7,161.0 L114.4,160.8 L115.2,160.6 L116.0,160.4 L116.8,160.1 L117.6,159.9 L118.3,159.6 L119.1,159.4 L119.9,159.1 L120.7,158.8 L121.4,158.5 L122.2,158.1 L123.0,157.8 L123.8,157.4 L124.6,157.0 L125.3,156.6 L126.1,156.2 L126.9,155.7 L127.7,155.2 L128.5,154.7 L129.2,154.1 L130.0,153.5 L130.8,152.7 L131.6,151.9 L132.4,151.0 L133.1,150.0 L133.9,149.0 L134.7,147.9 L135.5,146.8 L136.2,145.7 L137.0,144.7 L137.8,143.5 L138.6,142.4 L139.4,141.2 L140.1,139.9 L140.9,138.6 L141.7,137.3 L142.5,135.9 L143.3,134.5 L144.0,133.0 L144.8,131.5 L145.6,130.0 L146.4,128.3 L147.2,126.6 L147.9,124.8 L148.7,122.9 L149.5,121.0 L150.3,119.1 L151.0,117.2 L151.8,115.2 L152.6,113.2 L153.4,111.1 L154.2,109.1 L154.9,107.0 L155.7,104.8 L156.5,102.7 L157.3,100.6 L158.1,98.6 L158.8,96.9 L159.6,95.4 L160.4,94.1 L161.2,93.1 L162.0,92.3 L162.7,91.5 L163.5,90.9 L164.3,90.4 L165.1,90.0 L165.8,89.6 L166.6,89.3 L167.4,89.1 L168.2,88.9 L169.0,88.8 L169.7,88.7 L170.5,88.7 L171.3,88.8 L172.1,88.9 L172.9,89.1 L173.6,89.2 L174.4,89.5 L175.2,89.8 L176.0,90.2 L176.8,90.6 L177.5,91.1 L178.3,91.5 L179.1,92.0 L179.9,92.5 L180.6,93.0 L181.4,93.6 L182.2,94.3 L183.0,94.9 L183.8,95.6 L184.5,96.3 L185.3,96.9 L186.1,97.6 L186.9,98.3 L187.7,98.9 L188.4,99.5 L189.2,100.1 L190.0,100.6 L190.8,101.1 L191.6,101.6 L192.3,102.1 L193.1,102.6 L193.9,103.0 L194.7,103.5 L195.5,104.0 L196.2,104.4 L197.0,104.8 L197.8,105.2 L198.6,105.6 L199.3,106.0 L200.1,106.4 L200.9,106.8 L201.7,107.2 L202.5,107.5 L203.2,107.9 L204.0,108.2 L204.8,108.5 L205.6,108.9 L206.4,109.2 L207.1,109.5 L207.9,109.8 L208.7,110.2 L209.5,110.5 L210.3,110.7 L211.0,111.0 L211.8,111.3 L212.6,111.6 L213.4,111.9 L214.1,112.2 L214.9,112.4 L215.7,112.7 L216.5,113.0 L217.3,113.2 L218.0,113.5 L218.8,113.8 L219.6,114.0 L220.4,114.3 L221.2,114.5 L221.9,114.8 L222.7,115.0 L223.5,115.2 L224.3,115.4 L225.1,115.7 L225.8,115.8 L226.6,116.0 L227.4,116.2 L228.2,116.4 L228.9,116.5 L229.7,116.7 L230.5,116.8 L231.3,116.9 L232.1,117.1 L232.8,117.2 L233.6,117.3 L234.4,117.4 L235.2,117.6 L236.0,117.7 L236.7,117.8 L237.5,117.9 L238.3,118.0 L239.1,118.1 L239.9,118.2 L240.6,118.3 L241.4,118.4 L242.2,118.5 L243.0,118.6 L243.7,118.7 L244.5,118.7 L245.3,118.8 L246.1,118.9 L246.9,119.0 L247.6,119.1 L248.4,119.2 L249.2,119.2 L250.0,119.3 L250.8,119.4 L251.5,119.5 L252.3,119.5 L253.1,119.6 L253.9,119.7 L254.7,119.8 L255.4,119.8 L256.2,119.9 L257.0,120.0 L257.8,120.0 L258.6,120.1 L259.3,120.2 L260.1,120.2 L260.9,120.3 L261.7,120.3 L262.4,120.4 L263.2,120.5 L264.0,120.5 L264.8,120.6 L265.6,120.7 L266.3,120.7 L267.1,120.8 L267.9,120.8 L268.7,120.9 L269.5,121.0 L270.2,121.0 L271.0,121.1 L271.8,121.2 L272.6,121.2 L273.4,121.3 L274.1,121.3 L274.9,121.4 L275.7,121.5 L276.5,121.5 L277.2,121.6 L278.0,121.7 L278.8,121.7 L279.6,121.8 L280.4,121.8 L281.1,121.9 L281.9,121.9 L282.7,122.0 L283.5,122.1 L284.3,122.1 L285.0,122.2 L285.8,122.2 L286.6,122.3 L287.4,122.3 L288.2,122.3 L288.9,122.4 L289.7,122.4 L290.5,122.5 L291.3,122.5 L292.0,122.5 L292.8,122.6 L293.6,122.6 L294.4,122.6 L295.2,122.7 L295.9,122.7 L296.7,122.8 L297.5,122.8" stroke="#4caf72"/>
<path d="M63.8,183.4 L64.6,183.5 L65.4,183.7 L66.1,184.0 L66.9,184.2 L67.7,184.5 L68.5,184.8 L69.3,185.1 L70.0,185.4 L70.8,185.7 L71.6,186.0 L72.4,186.4 L73.1,186.7 L73.9,187.1 L74.7,187.5 L75.5,187.8 L76.3,188.2 L77.0,188.6 L77.8,189.0 L78.6,189.4 L79.4,189.9 L80.2,190.3 L80.9,190.7 L81.7,191.2 L82.5,191.7 L83.3,192.2 L84.1,192.7 L84.8,193.3 L85.6,193.8 L86.4,194.4 L87.2,195.0 L87.9,195.6 L88.7,196.2 L89.5,196.8 L90.3,197.4 L91.1,198.0 L91.8,198.6 L92.6,199.2 L93.4,199.9 L94.2,200.6 L95.0,201.2 L95.7,201.9 L96.5,202.5 L97.3,203.2 L98.1,203.8 L98.9,204.4 L99.6,205.0 L100.4,205.6 L101.2,206.1 L102.0,206.6 L102.8,207.1 L103.5,207.6 L104.3,208.1 L105.1,208.6 L105.9,209.0 L106.6,209.5 L107.4,209.9 L108.2,210.3 L109.0,210.7 L109.8,211.1 L110.5,211.5 L111.3,211.8 L112.1,212.1 L112.9,212.5 L113.7,212.8 L114.4,213.1 L115.2,213.5 L116.0,213.8 L116.8,214.1 L117.6,214.3 L118.3,214.5 L119.1,214.7 L119.9,214.8 L120.7,214.8 L121.4,214.8 L122.2,214.6 L123.0,214.3 L123.8,213.9 L124.6,213.3 L125.3,212.7 L126.1,212.0 L126.9,211.2 L127.7,210.4 L128.5,209.5 L129.2,208.5 L130.0,207.4 L130.8,206.2 L131.6,204.9 L132.4,203.5 L133.1,202.0 L133.9,200.4 L134.7,198.7 L135.5,196.8 L136.2,194.8 L137.0,192.6 L137.8,190.2 L138.6,187.4 L139.4,184.6 L140.1,181.7 L140.9,179.1 L141.7,176.6 L142.5,174.3 L143.3,172.2 L144.0,170.3 L144.8,168.4 L145.6,166.6 L146.4,164.9 L147.2,163.2 L147.9,161.6 L148.7,160.0 L149.5,158.6 L150.3,157.3 L151.0,156.2 L151.8,155.2 L152.6,154.3 L153.4,153.6 L154.2,152.9 L154.9,152.3 L155.7,151.7 L156.5,151.2 L157.3,150.7 L158.1,150.3 L158.8,149.9 L159.6,149.5 L160.4,149.1 L161.2,148.8 L162.0,148.5 L162.7,148.2 L163.5,147.9 L164.3,147.6 L165.1,147.4 L165.8,147.2 L166.6,147.0 L167.4,146.8 L168.2,146.7 L169.0,146.6 L169.7,146.5 L170.5,146.4 L171.3,146.4 L172.1,146.3 L172.9,146.2 L173.6,146.2 L174.4,146.1 L175.2,146.0 L176.0,145.9 L176.8,145.8 L177.5,145.6 L178.3,145.5 L179.1,145.4 L179.9,145.2 L180.6,145.0 L181.4,144.9 L182.2,144.7 L183.0,144.6 L183.8,144.4 L184.5,144.2 L185.3,144.1 L186.1,143.9 L186.9,143.7 L187.7,143.6 L188.4,143.4 L189.2,143.3 L190.0,143.1 L190.8,143.0 L191.6,142.8 L192.3,142.7 L193.1,142.6 L193.9,142.4 L194.7,142.3 L195.5,142.2 L196.2,142.0 L197.0,141.9 L197.8,141.8 L198.6,141.7 L199.3,141.5 L200.1,141.4 L200.9,141.3 L201.7,141.2 L202.5,141.1 L203.2,140.9 L204.0,140.8 L204.8,140.7 L205.6,140.6 L206.4,140.5 L207.1,140.4 L207.9,140.3 L208.7,140.2 L209.5,140.0 L210.3,139.9 L211.0,139.8 L211.8,139.7 L212.6,139.6 L213.4,139.5 L214.1,139.4 L214.9,139.3 L215.7,139.2 L216.5,139.1 L217.3,139.0 L218.0,138.9 L218.8,138.8 L219.6,138.7 L220.4,138.6 L221.2,138.5 L221.9,138.4 L222.7,138.3 L223.5,138.2 L224.3,138.1 L225.1,138.0 L225.8,137.8 L226.6,137.7 L227.4,137.6 L228.2,137.5 L228.9,137.4 L229.7,137.3 L230.5,137.2 L231.3,137.1 L232.1,137.0 L232.8,136.9 L233.6,136.8 L234.4,136.7 L235.2,136.6 L236.0,136.5 L236.7,136.4 L237.5,136.3 L238.3,136.1 L239.1,136.0 L239.9,135.9 L240.6,135.8 L241.4,135.7 L242.2,135.6 L243.0,135.5 L243.7,135.4 L244.5,135.3 L245.3,135.2 L246.1,135.1 L246.9,135.0 L247.6,134.9 L248.4,134.8 L249.2,134.7 L250.0,134.5 L250.8,134.4 L251.5,134.3 L252.3,134.2 L253.1,134.1 L253.9,133.9 L254.7,133.8 L255.4,133.7 L256.2,133.6 L257.0,133.4 L257.8,133.3 L258.6,133.2 L259.3,133.0 L260.1,132.9 L260.9,132.7 L261.7,132.6 L262.4,132.4 L263.2,132.2 L264.0,132.1 L264.8,131.9 L265.6,131.7 L266.3,131.6 L267.1,131.4 L267.9,131.2 L268.7,131.0 L269.5,130.8 L270.2,130.6 L271.0,130.4 L271.8,130.2 L272.6,130.0 L273.4,129.8 L274.1,129.6 L274.9,129.4 L275.7,129.2 L276.5,129.0 L277.2,128.8 L278.0,128.5 L278.8,128.3 L279.6,128.1 L280.4,127.9 L281.1,127.7 L281.9,127.5 L282.7,127.2 L283.5,127.0 L284.3,126.8 L285.0,126.5 L285.8,126.3 L286.6,126.1 L287.4,125.8 L288.2,125.6 L288.9,125.3 L289.7,125.1 L290.5,124.8 L291.3,124.6 L292.0,124.3 L292.8,124.1 L293.6,123.8 L294.4,123.5 L295.2,123.3 L295.9,123.0 L296.7,122.8 L297.5,122.7" stroke="#4caf72"/>
<path d="M63.8,186.7 L64.6,181.5 L65.4,177.5 L66.1,174.3 L66.9,172.2 L67.7,170.7 L68.5,169.7 L69.3,169.1 L70.0,168.6 L70.8,168.4 L71.6,168.2 L72.4,168.1 L73.1,167.9 L73.9,167.8 L74.7,167.7 L75.5,167.6 L76.3,167.5 L77.0,167.4 L77.8,167.3 L78.6,167.2 L79.4,167.1 L80.2,167.0 L80.9,167.0 L81.7,166.9 L82.5,166.8 L83.3,166.6 L84.1,166.5 L84.8,166.4 L85.6,166.3 L86.4,166.2 L87.2,166.0 L87.9,165.9 L88.7,165.8 L89.5,165.7 L90.3,165.5 L91.1,165.4 L91.8,165.3 L92.6,165.2 L93.4,165.0 L94.2,164.9 L95.0,164.8 L95.7,164.6 L96.5,164.5 L97.3,164.4 L98.1,164.2 L98.9,164.1 L99.6,164.0 L100.4,163.8 L101.2,163.7 L102.0,163.5 L102.8,163.4 L103.5,163.2 L104.3,163.1 L105.1,162.9 L105.9,162.7 L106.6,162.6 L107.4,162.4 L108.2,162.3 L109.0,162.1 L109.8,161.9 L110.5,161.8 L111.3,161.6 L112.1,161.4 L112.9,161.2 L113.7,161.0 L114.4,160.8 L115.2,160.6 L116.0,160.4 L116.8,160.1 L117.6,159.9 L118.3,159.6 L119.1,159.4 L119.9,159.1 L120.7,158.8 L121.4,158.5 L122.2,158.1 L123.0,157.8 L123.8,157.4 L124.6,157.0 L125.3,156.6 L126.1,156.2 L126.9,155.7 L127.7,155.2 L128.5,154.7 L129.2,154.1 L130.0,153.5 L130.8,152.7 L131.6,151.9 L132.4,151.0 L133.1,150.0 L133.9,149.0 L134.7,147.9 L135.5,146.8 L136.2,145.7 L137.0,144.7 L137.8,143.5 L138.6,142.4 L139.4,141.2 L140.1,139.9 L140.9,138.6 L141.7,137.3 L142.5,135.9 L143.3,134.5 L144.0,133.0 L144.8,131.5 L145.6,130.0 L146.4,128.3 L147.2,126.6 L147.9,124.8 L148.7,122.9 L149.5,121.0 L150.3,119.1 L151.0,117.1 L151.8,115.1 L152.6,113.1 L153.4,111.1 L154.2,109.0 L154.9,106.8 L155.7,104.6 L156.5,102.4 L157.3,100.1 L158.1,97.8 L158.8,95.5 L159.6,93.4 L160.4,91.4 L161.2,89.7 L162.0,88.1 L162.7,86.9 L163.5,85.8 L164.3,85.0 L165.1,84.3 L165.8,83.7 L166.6,83.2 L167.4,82.8 L168.2,82.4 L169.0,82.1 L169.7,81.9 L170.5,81.7 L171.3,81.6 L172.1,81.6 L172.9,81.6 L173.6,81.7 L174.4,81.9 L175.2,82.0 L176.0,82.2 L176.8,82.5 L177.5,82.9 L178.3,83.3 L179.1,83.8 L179.9,84.3 L180.6,84.8 L181.4,85.3 L182.2,85.9 L183.0,86.5 L183.8,87.1 L184.5,87.8 L185.3,88.5 L186.1,89.3 L186.9,90.0 L187.7,90.8 L188.4,91.5 L189.2,92.2 L190.0,92.9 L190.8,93.5 L191.6,94.1 L192.3,94.7 L193.1,95.3 L193.9,95.8 L194.7,96.3 L195.5,96.9 L196.2,97.4 L197.0,97.9 L197.8,98.4 L198.6,98.8 L199.3,99.3 L200.1,99.8 L200.9,100.2 L201.7,100.6 L202.5,101.0 L203.2,101.4 L204.0,101.8 L204.8,102.2 L205.6,102.6 L206.4,103.0 L207.1,103.3 L207.9,103.7 L208.7,104.1 L209.5,104.4 L210.3,104.8 L211.0,105.1 L211.8,105.4 L212.6,105.7 L213.4,106.1 L214.1,106.4 L214.9,106.7 L215.7,107.0 L216.5,107.3 L217.3,107.6 L218.0,107.9 L218.8,108.2 L219.6,108.5 L220.4,108.7 L221.2,109.0 L221.9,109.3 L222.7,109.6 L223.5,109.9 L224.3,110.1 L225.1,110.4 L225.8,110.6 L226.6,110.8 L227.4,111.1 L228.2,111.3 L228.9,111.5 L229.7,111.7 L230.5,111.8 L231.3,112.0 L232.1,112.1 L232.8,112.3 L233.6,112.4 L234.4,112.6 L235.2,112.7 L236.0,112.9 L236.7,113.0 L237.5,113.1 L238.3,113.2 L239.1,113.4 L239.9,113.5 L240.6,113.6 L241.4,113.7 L242.2,113.8 L243.0,113.9 L243.7,114.0 L244.5,114.1 L245.3,114.2 L246.1,114.3 L246.9,114.4 L247.6,114.5 L248.4,114.6 L249.2,114.7 L250.0,114.8 L250.8,114.9 L251.5,115.0 L252.3,115.0 L253.1,115.1 L253.9,115.2 L254.7,115.3 L255.4,115.4 L256.2,115.4 L257.0,115.5 L257.8,115.6 L258.6,115.7 L259.3,115.7 L260.1,115.8 L260.9,115.9 L261.7,115.9 L262.4,116.0 L263.2,116.1 L264.0,116.2 L264.8,116.2 L265.6,116.3 L266.3,116.4 L267.1,116.4 L267.9,116.5 L268.7,116.6 L269.5,116.6 L270.2,116.7 L271.0,116.8 L271.8,116.8 L272.6,116.9 L273.4,117.0 L274.1,117.0 L274.9,117.1 L275.7,117.2 L276.5,117.2 L277.2,117.3 L278.0,117.4 L278.8,117.4 L279.6,117.5 L280.4,117.6 L281.1,117.6 L281.9,117.7 L282.7,117.8 L283.5,117.8 L284.3,117.9 L285.0,118.0 L285.8,118.0 L286.6,118.1 L287.4,118.1 L288.2,118.2 L288.9,118.2 L289.7,118.3 L290.5,118.3 L291.3,118.4 L292.0,118.4 L292.8,118.5 L293.6,118.5 L294.4,118.5 L295.2,118.6 L295.9,118.6 L296.7,118.7 L297.5,118.7" stroke="#b98aee"/>
<path d="M63.8,186.9 L64.6,187.1 L65.4,187.4 L66.1,187.7 L66.9,188.0 L67.7,188.3 L68.5,188.7 L69.3,189.1 L70.0,189.5 L70.8,189.9 L71.6,190.3 L72.4,190.7 L73.1,191.1 L73.9,191.6 L74.7,192.0 L75.5,192.5 L76.3,192.9 L77.0,193.4 L77.8,193.9 L78.6,194.4 L79.4,194.9 L80.2,195.4 L80.9,195.9 L81.7,196.4 L82.5,197.0 L83.3,197.6 L84.1,198.2 L84.8,198.8 L85.6,199.5 L86.4,200.1 L87.2,200.8 L87.9,201.4 L88.7,202.1 L89.5,202.7 L90.3,203.4 L91.1,204.0 L91.8,204.7 L92.6,205.3 L93.4,206.0 L94.2,206.6 L95.0,207.3 L95.7,207.9 L96.5,208.6 L97.3,209.2 L98.1,209.8 L98.9,210.4 L99.6,211.0 L100.4,211.6 L101.2,212.2 L102.0,212.7 L102.8,213.3 L103.5,213.8 L104.3,214.4 L105.1,214.9 L105.9,215.4 L106.6,215.9 L107.4,216.4 L108.2,216.8 L109.0,217.3 L109.8,217.6 L110.5,218.0 L111.3,218.3 L112.1,218.7 L112.9,219.0 L113.7,219.3 L114.4,219.6 L115.2,219.8 L116.0,220.1 L116.8,220.3 L117.6,220.4 L118.3,220.5 L119.1,220.5 L119.9,220.3 L120.7,220.0 L121.4,219.6 L122.2,219.1 L123.0,218.4 L123.8,217.7 L124.6,217.0 L125.3,216.3 L126.1,215.6 L126.9,214.8 L127.7,214.0 L128.5,213.2 L129.2,212.4 L130.0,211.4 L130.8,210.4 L131.6,209.2 L132.4,207.9 L133.1,206.4 L133.9,204.6 L134.7,202.4 L135.5,199.9 L136.2,197.0 L137.0,193.9 L137.8,190.7 L138.6,187.5 L139.4,184.5 L140.1,181.6 L140.9,179.0 L141.7,176.6 L142.5,174.3 L143.3,172.2 L144.0,170.3 L144.8,168.4 L145.6,166.6 L146.4,164.9 L147.2,163.2 L147.9,161.6 L148.7,160.0 L149.5,158.6 L150.3,157.3 L151.0,156.2 L151.8,155.2 L152.6,154.3 L153.4,153.6 L154.2,152.9 L154.9,152.3 L155.7,151.7 L156.5,151.2 L157.3,150.7 L158.1,150.3 L158.8,149.9 L159.6,149.5 L160.4,149.1 L161.2,148.8 L162.0,148.5 L162.7,148.2 L163.5,147.9 L164.3,147.6 L165.1,147.4 L165.8,147.2 L166.6,147.0 L167.4,146.8 L168.2,146.7 L169.0,146.6 L169.7,146.5 L170.5,146.4 L171.3,146.3 L172.1,146.2 L172.9,146.1 L173.6,146.1 L174.4,146.0 L175.2,145.9 L176.0,145.7 L176.8,145.6 L177.5,145.4 L178.3,145.3 L179.1,145.1 L179.9,144.9 L180.6,144.8 L181.4,144.6 L182.2,144.4 L183.0,144.2 L183.8,144.0 L184.5,143.8 L185.3,143.6 L186.1,143.4 L186.9,143.2 L187.7,143.0 L188.4,142.9 L189.2,142.7 L190.0,142.5 L190.8,142.3 L191.6,142.2 L192.3,142.0 L193.1,141.9 L193.9,141.7 L194.7,141.6 L195.5,141.4 L196.2,141.3 L197.0,141.1 L197.8,141.0 L198.6,140.8 L199.3,140.7 L200.1,140.5 L200.9,140.4 L201.7,140.2 L202.5,140.1 L203.2,140.0 L204.0,139.8 L204.8,139.7 L205.6,139.6 L206.4,139.4 L207.1,139.3 L207.9,139.2 L208.7,139.1 L209.5,138.9 L210.3,138.8 L211.0,138.7 L211.8,138.6 L212.6,138.4 L213.4,138.3 L214.1,138.2 L214.9,138.1 L215.7,138.0 L216.5,137.8 L217.3,137.7 L218.0,137.6 L218.8,137.5 L219.6,137.3 L220.4,137.2 L221.2,137.1 L221.9,137.0 L222.7,136.9 L223.5,136.7 L224.3,136.6 L225.1,136.5 L225.8,136.4 L226.6,136.3 L227.4,136.1 L228.2,136.0 L228.9,135.9 L229.7,135.7 L230.5,135.6 L231.3,135.5 L232.1,135.4 L232.8,135.2 L233.6,135.1 L234.4,135.0 L235.2,134.9 L236.0,134.8 L236.7,134.6 L237.5,134.5 L238.3,134.4 L239.1,134.3 L239.9,134.2 L240.6,134.0 L241.4,133.9 L242.2,133.8 L243.0,133.7 L243.7,133.5 L244.5,133.4 L245.3,133.3 L246.1,133.2 L246.9,133.0 L247.6,132.9 L248.4,132.8 L249.2,132.7 L250.0,132.5 L250.8,132.4 L251.5,132.3 L252.3,132.1 L253.1,132.0 L253.9,131.8 L254.7,131.7 L255.4,131.5 L256.2,131.4 L257.0,131.2 L257.8,131.1 L258.6,130.9 L259.3,130.7 L260.1,130.6 L260.9,130.4 L261.7,130.2 L262.4,130.0 L263.2,129.8 L264.0,129.7 L264.8,129.5 L265.6,129.2 L266.3,129.0 L267.1,128.8 L267.9,128.6 L268.7,128.4 L269.5,128.2 L270.2,127.9 L271.0,127.7 L271.8,127.5 L272.6,127.2 L273.4,127.0 L274.1,126.8 L274.9,126.5 L275.7,126.3 L276.5,126.0 L277.2,125.8 L278.0,125.5 L278.8,125.3 L279.6,125.0 L280.4,124.8 L281.1,124.5 L281.9,124.3 L282.7,124.0 L283.5,123.7 L284.3,123.5 L285.0,123.2 L285.8,122.9 L286.6,122.6 L287.4,122.4 L288.2,122.1 L288.9,121.8 L289.7,121.5 L290.5,121.2 L291.3,120.9 L292.0,120.6 L292.8,120.3 L293.6,120.0 L294.4,119.7 L295.2,119.4 L295.9,119.1 L296.7,118.9 L297.5,118.7" stroke="#b98aee"/>
<path d="M63.8,190.4 L64.6,184.0 L65.4,179.1 L66.1,175.2 L66.9,172.7 L67.7,170.8 L68.5,169.7 L69.3,169.1 L70.0,168.6 L70.8,168.4 L71.6,168.2 L72.4,168.1 L73.1,167.9 L73.9,167.8 L74.7,167.7 L75.5,167.6 L76.3,167.5 L77.0,167.4 L77.8,167.3 L78.6,167.2 L79.4,167.1 L80.2,167.0 L80.9,167.0 L81.7,166.9 L82.5,166.8 L83.3,166.6 L84.1,166.5 L84.8,166.4 L85.6,166.3 L86.4,166.2 L87.2,166.0 L87.9,165.9 L88.7,165.8 L89.5,165.7 L90.3,165.5 L91.1,165.4 L91.8,165.3 L92.6,165.2 L93.4,165.0 L94.2,164.9 L95.0,164.8 L95.7,164.6 L96.5,164.5 L97.3,164.4 L98.1,164.2 L98.9,164.1 L99.6,164.0 L100.4,163.8 L101.2,163.7 L102.0,163.5 L102.8,163.4 L103.5,163.2 L104.3,163.1 L105.1,162.9 L105.9,162.7 L106.6,162.6 L107.4,162.4 L108.2,162.3 L109.0,162.1 L109.8,161.9 L110.5,161.8 L111.3,161.6 L112.1,161.4 L112.9,161.2 L113.7,161.0 L114.4,160.8 L115.2,160.6 L116.0,160.4 L116.8,160.1 L117.6,159.9 L118.3,159.6 L119.1,159.4 L119.9,159.1 L120.7,158.8 L121.4,158.5 L122.2,158.1 L123.0,157.8 L123.8,157.4 L124.6,157.0 L125.3,156.6 L126.1,156.2 L126.9,155.7 L127.7,155.2 L128.5,154.7 L129.2,154.1 L130.0,153.5 L130.8,152.7 L131.6,151.9 L132.4,151.0 L133.1,150.0 L133.9,149.0 L134.7,147.9 L135.5,146.8 L136.2,145.7 L137.0,144.7 L137.8,143.5 L138.6,142.4 L139.4,141.2 L140.1,139.9 L140.9,138.6 L141.7,137.3 L142.5,135.9 L143.3,134.5 L144.0,133.0 L144.8,131.5 L145.6,130.0 L146.4,128.3 L147.2,126.6 L147.9,124.8 L148.7,122.9 L149.5,121.0 L150.3,119.1 L151.0,117.1 L151.8,115.1 L152.6,113.1 L153.4,111.1 L154.2,108.9 L154.9,106.8 L155.7,104.6 L156.5,102.3 L157.3,100.0 L158.1,97.6 L158.8,95.3 L159.6,93.0 L160.4,90.7 L161.2,88.6 L162.0,86.5 L162.7,84.6 L163.5,82.9 L164.3,81.5 L165.1,80.4 L165.8,79.4 L166.6,78.7 L167.4,78.0 L168.2,77.4 L169.0,76.9 L169.7,76.5 L170.5,76.1 L171.3,75.9 L172.1,75.6 L172.9,75.5 L173.6,75.4 L174.4,75.4 L175.2,75.5 L176.0,75.6 L176.8,75.7 L177.5,75.9 L178.3,76.1 L179.1,76.5 L179.9,76.9 L180.6,77.4 L181.4,77.9 L182.2,78.4 L183.0,78.9 L183.8,79.4 L184.5,80.0 L185.3,80.7 L186.1,81.4 L186.9,82.1 L187.7,82.9 L188.4,83.7 L189.2,84.5 L190.0,85.3 L190.8,86.0 L191.6,86.8 L192.3,87.5 L193.1,88.1 L193.9,88.8 L194.7,89.4 L195.5,89.9 L196.2,90.5 L197.0,91.1 L197.8,91.6 L198.6,92.2 L199.3,92.7 L200.1,93.2 L200.9,93.7 L201.7,94.2 L202.5,94.7 L203.2,95.1 L204.0,95.5 L204.8,96.0 L205.6,96.4 L206.4,96.8 L207.1,97.2 L207.9,97.6 L208.7,98.0 L209.5,98.4 L210.3,98.8 L211.0,99.2 L211.8,99.5 L212.6,99.9 L213.4,100.2 L214.1,100.6 L214.9,100.9 L215.7,101.3 L216.5,101.6 L217.3,101.9 L218.0,102.2 L218.8,102.5 L219.6,102.9 L220.4,103.2 L221.2,103.5 L221.9,103.8 L222.7,104.1 L223.5,104.4 L224.3,104.7 L225.1,105.0 L225.8,105.3 L226.6,105.5 L227.4,105.8 L228.2,106.0 L228.9,106.3 L229.7,106.5 L230.5,106.7 L231.3,106.9 L232.1,107.1 L232.8,107.3 L233.6,107.5 L234.4,107.6 L235.2,107.8 L236.0,108.0 L236.7,108.1 L237.5,108.3 L238.3,108.4 L239.1,108.5 L239.9,108.7 L240.6,108.8 L241.4,108.9 L242.2,109.0 L243.0,109.2 L243.7,109.3 L244.5,109.4 L245.3,109.5 L246.1,109.6 L246.9,109.7 L247.6,109.8 L248.4,109.9 L249.2,110.0 L250.0,110.1 L250.8,110.2 L251.5,110.3 L252.3,110.4 L253.1,110.5 L253.9,110.6 L254.7,110.7 L255.4,110.8 L256.2,110.9 L257.0,110.9 L257.8,111.0 L258.6,111.1 L259.3,111.2 L260.1,111.3 L260.9,111.3 L261.7,111.4 L262.4,111.5 L263.2,111.6 L264.0,111.6 L264.8,111.7 L265.6,111.8 L266.3,111.8 L267.1,111.9 L267.9,112.0 L268.7,112.1 L269.5,112.1 L270.2,112.2 L271.0,112.3 L271.8,112.3 L272.6,112.4 L273.4,112.5 L274.1,112.6 L274.9,112.6 L275.7,112.7 L276.5,112.8 L277.2,112.8 L278.0,112.9 L278.8,113.0 L279.6,113.1 L280.4,113.1 L281.1,113.2 L281.9,113.3 L282.7,113.4 L283.5,113.4 L284.3,113.5 L285.0,113.6 L285.8,113.6 L286.6,113.7 L287.4,113.8 L288.2,113.8 L288.9,113.9 L289.7,113.9 L290.5,114.0 L291.3,114.0 L292.0,114.1 L292.8,114.1 L293.6,114.2 L294.4,114.2 L295.2,114.3 L295.9,114.3 L296.7,114.4 L297.5,114.4" stroke="#d6aa30"/>
<path d="M63.8,190.6 L64.6,190.8 L65.4,191.1 L66.1,191.4 L66.9,191.7 L67.7,192.1 L68.5,192.5 L69.3,192.9 L70.0,193.3 L70.8,193.7 L71.6,194.2 L72.4,194.6 L73.1,195.1 L73.9,195.5 L74.7,196.0 L75.5,196.5 L76.3,197.0 L77.0,197.5 L77.8,198.0 L78.6,198.5 L79.4,199.0 L80.2,199.6 L80.9,200.1 L81.7,200.7 L82.5,201.3 L83.3,201.9 L84.1,202.5 L84.8,203.2 L85.6,203.8 L86.4,204.5 L87.2,205.2 L87.9,205.8 L88.7,206.5 L89.5,207.2 L90.3,207.9 L91.1,208.6 L91.8,209.3 L92.6,210.0 L93.4,210.8 L94.2,211.5 L95.0,212.3 L95.7,213.0 L96.5,213.8 L97.3,214.5 L98.1,215.2 L98.9,215.9 L99.6,216.6 L100.4,217.2 L101.2,217.8 L102.0,218.5 L102.8,219.1 L103.5,219.6 L104.3,220.2 L105.1,220.8 L105.9,221.3 L106.6,221.9 L107.4,222.4 L108.2,222.9 L109.0,223.3 L109.8,223.8 L110.5,224.2 L111.3,224.6 L112.1,225.0 L112.9,225.3 L113.7,225.7 L114.4,226.0 L115.2,226.2 L116.0,226.4 L116.8,226.4 L117.6,226.4 L118.3,226.1 L119.1,225.7 L119.9,225.1 L120.7,224.5 L121.4,223.7 L122.2,222.9 L123.0,222.1 L123.8,221.3 L124.6,220.4 L125.3,219.5 L126.1,218.6 L126.9,217.6 L127.7,216.5 L128.5,215.4 L129.2,214.2 L130.0,213.0 L130.8,211.6 L131.6,210.1 L132.4,208.5 L133.1,206.8 L133.9,204.8 L134.7,202.4 L135.5,199.8 L136.2,196.9 L137.0,193.8 L137.8,190.7 L138.6,187.5 L139.4,184.5 L140.1,181.6 L140.9,179.0 L141.7,176.6 L142.5,174.3 L143.3,172.2 L144.0,170.3 L144.8,168.4 L145.6,166.6 L146.4,164.9 L147.2,163.2 L147.9,161.6 L148.7,160.0 L149.5,158.6 L150.3,157.3 L151.0,156.2 L151.8,155.2 L152.6,154.3 L153.4,153.6 L154.2,152.9 L154.9,152.3 L155.7,151.7 L156.5,151.2 L157.3,150.7 L158.1,150.3 L158.8,149.9 L159.6,149.5 L160.4,149.2 L161.2,148.8 L162.0,148.5 L162.7,148.2 L163.5,147.9 L164.3,147.6 L165.1,147.4 L165.8,147.2 L166.6,147.0 L167.4,146.8 L168.2,146.7 L169.0,146.6 L169.7,146.4 L170.5,146.3 L171.3,146.2 L172.1,146.2 L172.9,146.1 L173.6,146.0 L174.4,145.8 L175.2,145.7 L176.0,145.6 L176.8,145.4 L177.5,145.3 L178.3,145.1 L179.1,144.9 L179.9,144.7 L180.6,144.5 L181.4,144.3 L182.2,144.0 L183.0,143.8 L183.8,143.6 L184.5,143.4 L185.3,143.1 L186.1,142.9 L186.9,142.7 L187.7,142.5 L188.4,142.3 L189.2,142.1 L190.0,141.9 L190.8,141.7 L191.6,141.5 L192.3,141.3 L193.1,141.1 L193.9,141.0 L194.7,140.8 L195.5,140.6 L196.2,140.4 L197.0,140.3 L197.8,140.1 L198.6,139.9 L199.3,139.8 L200.1,139.6 L200.9,139.4 L201.7,139.3 L202.5,139.1 L203.2,139.0 L204.0,138.8 L204.8,138.7 L205.6,138.5 L206.4,138.4 L207.1,138.2 L207.9,138.1 L208.7,137.9 L209.5,137.8 L210.3,137.6 L211.0,137.5 L211.8,137.3 L212.6,137.2 L213.4,137.1 L214.1,136.9 L214.9,136.8 L215.7,136.6 L216.5,136.5 L217.3,136.4 L218.0,136.2 L218.8,136.1 L219.6,136.0 L220.4,135.8 L221.2,135.7 L221.9,135.5 L222.7,135.4 L223.5,135.3 L224.3,135.1 L225.1,135.0 L225.8,134.8 L226.6,134.7 L227.4,134.6 L228.2,134.4 L228.9,134.3 L229.7,134.1 L230.5,134.0 L231.3,133.8 L232.1,133.7 L232.8,133.5 L233.6,133.4 L234.4,133.3 L235.2,133.1 L236.0,133.0 L236.7,132.8 L237.5,132.7 L238.3,132.6 L239.1,132.4 L239.9,132.3 L240.6,132.1 L241.4,132.0 L242.2,131.9 L243.0,131.7 L243.7,131.6 L244.5,131.4 L245.3,131.3 L246.1,131.2 L246.9,131.0 L247.6,130.9 L248.4,130.7 L249.2,130.6 L250.0,130.4 L250.8,130.3 L251.5,130.1 L252.3,129.9 L253.1,129.8 L253.9,129.6 L254.7,129.4 L255.4,129.3 L256.2,129.1 L257.0,128.9 L257.8,128.7 L258.6,128.6 L259.3,128.4 L260.1,128.2 L260.9,128.0 L261.7,127.8 L262.4,127.6 L263.2,127.3 L264.0,127.1 L264.8,126.9 L265.6,126.7 L266.3,126.4 L267.1,126.2 L267.9,125.9 L268.7,125.7 L269.5,125.4 L270.2,125.1 L271.0,124.9 L271.8,124.6 L272.6,124.3 L273.4,124.1 L274.1,123.8 L274.9,123.5 L275.7,123.2 L276.5,122.9 L277.2,122.7 L278.0,122.4 L278.8,122.1 L279.6,121.8 L280.4,121.5 L281.1,121.2 L281.9,120.9 L282.7,120.6 L283.5,120.3 L284.3,120.0 L285.0,119.7 L285.8,119.4 L286.6,119.1 L287.4,118.7 L288.2,118.4 L288.9,118.1 L289.7,117.7 L290.5,117.4 L291.3,117.1 L292.0,116.7 L292.8,116.4 L293.6,116.0 L294.4,115.7 L295.2,115.3 L295.9,115.0 L296.7,114.7 L297.5,114.5" stroke="#d6aa30"/>
<path d="M63.8,193.7 L64.6,186.3 L65.4,180.5 L66.1,175.9 L66.9,173.0 L67.7,170.9 L68.5,169.7 L69.3,169.1 L70.0,168.6 L70.8,168.4 L71.6,168.2 L72.4,168.1 L73.1,167.9 L73.9,167.8 L74.7,167.7 L75.5,167.6 L76.3,167.5 L77.0,167.4 L77.8,167.3 L78.6,167.2 L79.4,167.1 L80.2,167.0 L80.9,167.0 L81.7,166.9 L82.5,166.8 L83.3,166.6 L84.1,166.5 L84.8,166.4 L85.6,166.3 L86.4,166.2 L87.2,166.0 L87.9,165.9 L88.7,165.8 L89.5,165.7 L90.3,165.5 L91.1,165.4 L91.8,165.3 L92.6,165.2 L93.4,165.0 L94.2,164.9 L95.0,164.8 L95.7,164.6 L96.5,164.5 L97.3,164.4 L98.1,164.2 L98.9,164.1 L99.6,164.0 L100.4,163.8 L101.2,163.7 L102.0,163.5 L102.8,163.4 L103.5,163.2 L104.3,163.1 L105.1,162.9 L105.9,162.7 L106.6,162.6 L107.4,162.4 L108.2,162.3 L109.0,162.1 L109.8,161.9 L110.5,161.8 L111.3,161.6 L112.1,161.4 L112.9,161.2 L113.7,161.0 L114.4,160.8 L115.2,160.6 L116.0,160.4 L116.8,160.1 L117.6,159.9 L118.3,159.6 L119.1,159.4 L119.9,159.1 L120.7,158.8 L121.4,158.5 L122.2,158.1 L123.0,157.8 L123.8,157.4 L124.6,157.0 L125.3,156.6 L126.1,156.2 L126.9,155.7 L127.7,155.2 L128.5,154.7 L129.2,154.1 L130.0,153.5 L130.8,152.7 L131.6,151.9 L132.4,151.0 L133.1,150.0 L133.9,149.0 L134.7,147.9 L135.5,146.8 L136.2,145.7 L137.0,144.7 L137.8,143.5 L138.6,142.4 L139.4,141.2 L140.1,139.9 L140.9,138.6 L141.7,137.3 L142.5,135.9 L143.3,134.5 L144.0,133.0 L144.8,131.5 L145.6,130.0 L146.4,128.3 L147.2,126.6 L147.9,124.8 L148.7,122.9 L149.5,121.0 L150.3,119.1 L151.0,117.1 L151.8,115.1 L152.6,113.1 L153.4,111.1 L154.2,108.9 L154.9,106.8 L155.7,104.6 L156.5,102.3 L157.3,99.9 L158.1,97.6 L158.8,95.3 L159.6,92.9 L160.4,90.7 L161.2,88.4 L162.0,86.2 L162.7,84.1 L163.5,82.1 L164.3,80.3 L165.1,78.7 L165.8,77.4 L166.6,76.2 L167.4,75.2 L168.2,74.3 L169.0,73.5 L169.7,72.8 L170.5,72.1 L171.3,71.6 L172.1,71.1 L172.9,70.7 L173.6,70.4 L174.4,70.1 L175.2,69.9 L176.0,69.8 L176.8,69.7 L177.5,69.7 L178.3,69.8 L179.1,69.9 L179.9,70.1 L180.6,70.3 L181.4,70.6 L182.2,71.0 L183.0,71.4 L183.8,71.9 L184.5,72.5 L185.3,73.0 L186.1,73.6 L186.9,74.1 L187.7,74.8 L188.4,75.5 L189.2,76.3 L190.0,77.0 L190.8,77.8 L191.6,78.7 L192.3,79.5 L193.1,80.3 L193.9,81.1 L194.7,81.9 L195.5,82.6 L196.2,83.3 L197.0,84.0 L197.8,84.6 L198.6,85.2 L199.3,85.8 L200.1,86.4 L200.9,86.9 L201.7,87.5 L202.5,88.1 L203.2,88.6 L204.0,89.1 L204.8,89.6 L205.6,90.1 L206.4,90.6 L207.1,91.0 L207.9,91.5 L208.7,91.9 L209.5,92.4 L210.3,92.8 L211.0,93.2 L211.8,93.6 L212.6,94.1 L213.4,94.4 L214.1,94.8 L214.9,95.2 L215.7,95.6 L216.5,96.0 L217.3,96.3 L218.0,96.7 L218.8,97.0 L219.6,97.4 L220.4,97.7 L221.2,98.0 L221.9,98.4 L222.7,98.7 L223.5,99.0 L224.3,99.4 L225.1,99.7 L225.8,100.0 L226.6,100.3 L227.4,100.6 L228.2,100.9 L228.9,101.2 L229.7,101.5 L230.5,101.8 L231.3,102.0 L232.1,102.3 L232.8,102.5 L233.6,102.8 L234.4,103.0 L235.2,103.2 L236.0,103.3 L236.7,103.5 L237.5,103.7 L238.3,103.9 L239.1,104.0 L239.9,104.2 L240.6,104.3 L241.4,104.5 L242.2,104.6 L243.0,104.8 L243.7,104.9 L244.5,105.0 L245.3,105.1 L246.1,105.3 L246.9,105.4 L247.6,105.5 L248.4,105.6 L249.2,105.7 L250.0,105.8 L250.8,106.0 L251.5,106.1 L252.3,106.2 L253.1,106.3 L253.9,106.4 L254.7,106.5 L255.4,106.6 L256.2,106.7 L257.0,106.8 L257.8,106.9 L258.6,107.0 L259.3,107.0 L260.1,107.1 L260.9,107.2 L261.7,107.3 L262.4,107.4 L263.2,107.5 L264.0,107.6 L264.8,107.6 L265.6,107.7 L266.3,107.8 L267.1,107.9 L267.9,107.9 L268.7,108.0 L269.5,108.1 L270.2,108.2 L271.0,108.2 L271.8,108.3 L272.6,108.4 L273.4,108.5 L274.1,108.5 L274.9,108.6 L275.7,108.7 L276.5,108.8 L277.2,108.8 L278.0,108.9 L278.8,109.0 L279.6,109.1 L280.4,109.1 L281.1,109.2 L281.9,109.3 L282.7,109.4 L283.5,109.5 L284.3,109.5 L285.0,109.6 L285.8,109.7 L286.6,109.7 L287.4,109.8 L288.2,109.9 L288.9,110.0 L289.7,110.0 L290.5,110.1 L291.3,110.2 L292.0,110.2 L292.8,110.3 L293.6,110.3 L294.4,110.4 L295.2,110.4 L295.9,110.5 L296.7,110.5 L297.5,110.6" stroke="#36d6d6"/>
<path d="M63.8,193.9 L64.6,194.1 L65.4,194.4 L66.1,194.8 L66.9,195.2 L67.7,195.6 L68.5,196.0 L69.3,196.4 L70.0,196.9 L70.8,197.3 L71.6,197.8 L72.4,198.3 L73.1,198.7 L73.9,199.2 L74.7,199.8 L75.5,200.3 L76.3,200.8 L77.0,201.3 L77.8,201.9 L78.6,202.4 L79.4,203.0 L80.2,203.6 L80.9,204.2 L81.7,204.8 L82.5,205.4 L83.3,206.0 L84.1,206.7 L84.8,207.4 L85.6,208.1 L86.4,208.8 L87.2,209.5 L87.9,210.2 L88.7,211.0 L89.5,211.7 L90.3,212.5 L91.1,213.2 L91.8,214.0 L92.6,214.8 L93.4,215.6 L94.2,216.4 L95.0,217.3 L95.7,218.1 L96.5,218.9 L97.3,219.7 L98.1,220.5 L98.9,221.3 L99.6,222.0 L100.4,222.7 L101.2,223.3 L102.0,224.0 L102.8,224.6 L103.5,225.2 L104.3,225.8 L105.1,226.4 L105.9,226.9 L106.6,227.5 L107.4,228.0 L108.2,228.4 L109.0,228.9 L109.8,229.3 L110.5,229.7 L111.3,230.0 L112.1,230.3 L112.9,230.6 L113.7,230.8 L114.4,231.0 L115.2,231.0 L116.0,230.8 L116.8,230.4 L117.6,229.9 L118.3,229.3 L119.1,228.5 L119.9,227.7 L120.7,226.8 L121.4,226.0 L122.2,225.1 L123.0,224.2 L123.8,223.2 L124.6,222.2 L125.3,221.2 L126.1,220.1 L126.9,218.9 L127.7,217.7 L128.5,216.4 L129.2,215.1 L130.0,213.6 L130.8,212.1 L131.6,210.5 L132.4,208.8 L133.1,206.9 L133.9,204.8 L134.7,202.4 L135.5,199.8 L136.2,196.9 L137.0,193.8 L137.8,190.6 L138.6,187.5 L139.4,184.5 L140.1,181.6 L140.9,179.0 L141.7,176.6 L142.5,174.3 L143.3,172.2 L144.0,170.3 L144.8,168.4 L145.6,166.6 L146.4,164.9 L147.2,163.2 L147.9,161.6 L148.7,160.0 L149.5,158.6 L150.3,157.3 L151.0,156.2 L151.8,155.2 L152.6,154.3 L153.4,153.6 L154.2,152.9 L154.9,152.3 L155.7,151.7 L156.5,151.2 L157.3,150.7 L158.1,150.3 L158.8,149.9 L159.6,149.5 L160.4,149.2 L161.2,148.8 L162.0,148.5 L162.7,148.2 L163.5,147.9 L164.3,147.7 L165.1,147.4 L165.8,147.2 L166.6,147.0 L167.4,146.8 L168.2,146.7 L169.0,146.5 L169.7,146.4 L170.5,146.3 L171.3,146.2 L172.1,146.1 L172.9,146.0 L173.6,145.9 L174.4,145.7 L175.2,145.6 L176.0,145.4 L176.8,145.3 L177.5,145.1 L178.3,144.9 L179.1,144.7 L179.9,144.4 L180.6,144.2 L181.4,144.0 L182.2,143.7 L183.0,143.5 L183.8,143.2 L184.5,143.0 L185.3,142.7 L186.1,142.5 L186.9,142.2 L187.7,142.0 L188.4,141.8 L189.2,141.6 L190.0,141.3 L190.8,141.1 L191.6,140.9 L192.3,140.7 L193.1,140.5 L193.9,140.3 L194.7,140.1 L195.5,139.9 L196.2,139.7 L197.0,139.5 L197.8,139.4 L198.6,139.2 L199.3,139.0 L200.1,138.8 L200.9,138.6 L201.7,138.4 L202.5,138.3 L203.2,138.1 L204.0,137.9 L204.8,137.8 L205.6,137.6 L206.4,137.4 L207.1,137.3 L207.9,137.1 L208.7,136.9 L209.5,136.8 L210.3,136.6 L211.0,136.4 L211.8,136.3 L212.6,136.1 L213.4,136.0 L214.1,135.8 L214.9,135.7 L215.7,135.5 L216.5,135.4 L217.3,135.2 L218.0,135.0 L218.8,134.9 L219.6,134.7 L220.4,134.6 L221.2,134.4 L221.9,134.3 L222.7,134.1 L223.5,134.0 L224.3,133.8 L225.1,133.7 L225.8,133.5 L226.6,133.3 L227.4,133.2 L228.2,133.0 L228.9,132.9 L229.7,132.7 L230.5,132.5 L231.3,132.4 L232.1,132.2 L232.8,132.1 L233.6,131.9 L234.4,131.7 L235.2,131.6 L236.0,131.4 L236.7,131.3 L237.5,131.1 L238.3,131.0 L239.1,130.8 L239.9,130.7 L240.6,130.5 L241.4,130.4 L242.2,130.2 L243.0,130.0 L243.7,129.9 L244.5,129.7 L245.3,129.6 L246.1,129.4 L246.9,129.2 L247.6,129.1 L248.4,128.9 L249.2,128.8 L250.0,128.6 L250.8,128.4 L251.5,128.2 L252.3,128.1 L253.1,127.9 L253.9,127.7 L254.7,127.5 L255.4,127.3 L256.2,127.1 L257.0,126.9 L257.8,126.7 L258.6,126.5 L259.3,126.3 L260.1,126.1 L260.9,125.9 L261.7,125.6 L262.4,125.4 L263.2,125.2 L264.0,124.9 L264.8,124.7 L265.6,124.4 L266.3,124.1 L267.1,123.9 L267.9,123.6 L268.7,123.3 L269.5,123.0 L270.2,122.7 L271.0,122.4 L271.8,122.1 L272.6,121.8 L273.4,121.5 L274.1,121.2 L274.9,120.9 L275.7,120.6 L276.5,120.3 L277.2,120.0 L278.0,119.6 L278.8,119.3 L279.6,119.0 L280.4,118.7 L281.1,118.4 L281.9,118.0 L282.7,117.7 L283.5,117.3 L284.3,117.0 L285.0,116.6 L285.8,116.3 L286.6,115.9 L287.4,115.6 L288.2,115.2 L288.9,114.9 L289.7,114.5 L290.5,114.1 L291.3,113.7 L292.0,113.4 L292.8,113.0 L293.6,112.6 L294.4,112.2 L295.2,111.8 L295.9,111.5 L296.7,111.1 L297.5,110.9" stroke="#36d6d6"/>
<path d="M63.8,196.9 L64.6,188.5 L65.4,181.9 L66.1,176.7 L66.9,173.4 L67.7,171.0 L68.5,169.7 L69.3,169.1 L70.0,168.6 L70.8,168.4 L71.6,168.2 L72.4,168.1 L73.1,167.9 L73.9,167.8 L74.7,167.7 L75.5,167.6 L76.3,167.5 L77.0,167.4 L77.8,167.3 L78.6,167.2 L79.4,167.1 L80.2,167.0 L80.9,167.0 L81.7,166.9 L82.5,166.8 L83.3,166.6 L84.1,166.5 L84.8,166.4 L85.6,166.3 L86.4,166.2 L87.2,166.0 L87.9,165.9 L88.7,165.8 L89.5,165.7 L90.3,165.5 L91.1,165.4 L91.8,165.3 L92.6,165.2 L93.4,165.0 L94.2,164.9 L95.0,164.8 L95.7,164.6 L96.5,164.5 L97.3,164.4 L98.1,164.2 L98.9,164.1 L99.6,164.0 L100.4,163.8 L101.2,163.7 L102.0,163.5 L102.8,163.4 L103.5,163.2 L104.3,163.1 L105.1,162.9 L105.9,162.7 L106.6,162.6 L107.4,162.4 L108.2,162.3 L109.0,162.1 L109.8,161.9 L110.5,161.8 L111.3,161.6 L112.1,161.4 L112.9,161.2 L113.7,161.0 L114.4,160.8 L115.2,160.6 L116.0,160.4 L116.8,160.1 L117.6,159.9 L118.3,159.6 L119.1,159.4 L119.9,159.1 L120.7,158.8 L121.4,158.5 L122.2,158.1 L123.0,157.8 L123.8,157.4 L124.6,157.0 L125.3,156.6 L126.1,156.2 L126.9,155.7 L127.7,155.2 L128.5,154.7 L129.2,154.1 L130.0,153.5 L130.8,152.7 L131.6,151.9 L132.4,151.0 L133.1,150.0 L133.9,149.0 L134.7,147.9 L135.5,146.8 L136.2,145.7 L137.0,144.7 L137.8,143.5 L138.6,142.4 L139.4,141.2 L140.1,139.9 L140.9,138.6 L141.7,137.3 L142.5,135.9 L143.3,134.5 L144.0,133.0 L144.8,131.5 L145.6,130.0 L146.4,128.3 L147.2,126.6 L147.9,124.8 L148.7,122.9 L149.5,121.0 L150.3,119.1 L151.0,117.1 L151.8,115.1 L152.6,113.1 L153.4,111.1 L154.2,108.9 L154.9,106.8 L155.7,104.6 L156.5,102.3 L157.3,99.9 L158.1,97.6 L158.8,95.2 L159.6,92.8 L160.4,90.6 L161.2,88.3 L162.0,86.0 L162.7,83.7 L163.5,81.5 L164.3,79.4 L165.1,77.5 L165.8,75.8 L166.6,74.2 L167.4,72.8 L168.2,71.5 L169.0,70.3 L169.7,69.3 L170.5,68.3 L171.3,67.5 L172.1,66.8 L172.9,66.2 L173.6,65.6 L174.4,65.2 L175.2,64.8 L176.0,64.5 L176.8,64.2 L177.5,64.1 L178.3,63.9 L179.1,63.9 L179.9,63.9 L180.6,64.0 L181.4,64.2 L182.2,64.3 L183.0,64.6 L183.8,64.9 L184.5,65.4 L185.3,65.9 L186.1,66.4 L186.9,67.0 L187.7,67.6 L188.4,68.2 L189.2,68.8 L190.0,69.5 L190.8,70.3 L191.6,71.1 L192.3,72.0 L193.1,72.9 L193.9,73.8 L194.7,74.7 L195.5,75.5 L196.2,76.4 L197.0,77.2 L197.8,78.0 L198.6,78.7 L199.3,79.4 L200.1,80.1 L200.9,80.8 L201.7,81.4 L202.5,82.0 L203.2,82.6 L204.0,83.2 L204.8,83.8 L205.6,84.4 L206.4,85.0 L207.1,85.5 L207.9,86.0 L208.7,86.5 L209.5,87.0 L210.3,87.5 L211.0,88.0 L211.8,88.5 L212.6,88.9 L213.4,89.4 L214.1,89.8 L214.9,90.3 L215.7,90.7 L216.5,91.1 L217.3,91.5 L218.0,91.9 L218.8,92.3 L219.6,92.7 L220.4,93.1 L221.2,93.5 L221.9,93.8 L222.7,94.2 L223.5,94.6 L224.3,94.9 L225.1,95.3 L225.8,95.6 L226.6,96.0 L227.4,96.3 L228.2,96.7 L228.9,97.0 L229.7,97.3 L230.5,97.7 L231.3,98.0 L232.1,98.3 L232.8,98.6 L233.6,98.9 L234.4,99.1 L235.2,99.4 L236.0,99.6 L236.7,99.9 L237.5,100.1 L238.3,100.3 L239.1,100.4 L239.9,100.6 L240.6,100.8 L241.4,101.0 L242.2,101.1 L243.0,101.3 L243.7,101.5 L244.5,101.6 L245.3,101.8 L246.1,101.9 L246.9,102.0 L247.6,102.2 L248.4,102.3 L249.2,102.4 L250.0,102.6 L250.8,102.7 L251.5,102.8 L252.3,102.9 L253.1,103.1 L253.9,103.2 L254.7,103.3 L255.4,103.4 L256.2,103.5 L257.0,103.6 L257.8,103.7 L258.6,103.8 L259.3,103.9 L260.1,104.0 L260.9,104.1 L261.7,104.2 L262.4,104.3 L263.2,104.4 L264.0,104.5 L264.8,104.6 L265.6,104.7 L266.3,104.8 L267.1,104.9 L267.9,104.9 L268.7,105.0 L269.5,105.1 L270.2,105.2 L271.0,105.3 L271.8,105.4 L272.6,105.4 L273.4,105.5 L274.1,105.6 L274.9,105.7 L275.7,105.8 L276.5,105.8 L277.2,105.9 L278.0,106.0 L278.8,106.1 L279.6,106.2 L280.4,106.2 L281.1,106.3 L281.9,106.4 L282.7,106.5 L283.5,106.6 L284.3,106.7 L285.0,106.7 L285.8,106.8 L286.6,106.9 L287.4,107.0 L288.2,107.1 L288.9,107.1 L289.7,107.2 L290.5,107.3 L291.3,107.4 L292.0,107.4 L292.8,107.5 L293.6,107.6 L294.4,107.6 L295.2,107.7 L295.9,107.8 L296.7,107.8 L297.5,107.9" stroke="#8f6464"/>
<path d="M63.8,197.2 L64.6,197.4 L65.4,197.8 L66.1,198.1 L66.9,198.6 L67.7,199.0 L68.5,199.5 L69.3,199.9 L70.0,200.4 L70.8,200.9 L71.6,201.4 L72.4,201.9 L73.1,202.5 L73.9,203.0 L74.7,203.6 L75.5,204.2 L76.3,204.7 L77.0,205.3 L77.8,205.9 L78.6,206.5 L79.4,207.1 L80.2,207.8 L80.9,208.4 L81.7,209.1 L82.5,209.8 L83.3,210.5 L84.1,211.2 L84.8,211.9 L85.6,212.7 L86.4,213.5 L87.2,214.3 L87.9,215.1 L88.7,215.9 L89.5,216.7 L90.3,217.5 L91.1,218.4 L91.8,219.3 L92.6,220.2 L93.4,221.1 L94.2,222.0 L95.0,223.0 L95.7,223.9 L96.5,224.8 L97.3,225.7 L98.1,226.6 L98.9,227.4 L99.6,228.2 L100.4,228.9 L101.2,229.5 L102.0,230.1 L102.8,230.7 L103.5,231.3 L104.3,231.9 L105.1,232.5 L105.9,233.0 L106.6,233.6 L107.4,234.1 L108.2,234.5 L109.0,235.0 L109.8,235.3 L110.5,235.6 L111.3,235.9 L112.1,236.1 L112.9,236.1 L113.7,236.1 L114.4,235.9 L115.2,235.5 L116.0,234.9 L116.8,234.2 L117.6,233.4 L118.3,232.5 L119.1,231.7 L119.9,230.8 L120.7,230.0 L121.4,229.1 L122.2,228.3 L123.0,227.4 L123.8,226.5 L124.6,225.5 L125.3,224.5 L126.1,223.4 L126.9,222.3 L127.7,221.0 L128.5,219.7 L129.2,218.3 L130.0,216.6 L130.8,214.8 L131.6,212.7 L132.4,210.3 L133.1,207.8 L133.9,205.2 L134.7,202.4 L135.5,199.6 L136.2,196.7 L137.0,193.6 L137.8,190.6 L138.6,187.5 L139.4,184.5 L140.1,181.6 L140.9,179.0 L141.7,176.6 L142.5,174.3 L143.3,172.2 L144.0,170.3 L144.8,168.4 L145.6,166.6 L146.4,164.9 L147.2,163.2 L147.9,161.6 L148.7,160.0 L149.5,158.6 L150.3,157.3 L151.0,156.2 L151.8,155.2 L152.6,154.3 L153.4,153.6 L154.2,152.9 L154.9,152.3 L155.7,151.7 L156.5,151.2 L157.3,150.7 L158.1,150.3 L158.8,149.9 L159.6,149.5 L160.4,149.2 L161.2,148.8 L162.0,148.5 L162.7,148.2 L163.5,147.9 L164.3,147.7 L165.1,147.4 L165.8,147.2 L166.6,147.0 L167.4,146.8 L168.2,146.7 L169.0,146.5 L169.7,146.4 L170.5,146.3 L171.3,146.2 L172.1,146.0 L172.9,145.9 L173.6,145.8 L174.4,145.7 L175.2,145.5 L176.0,145.4 L176.8,145.2 L177.5,145.0 L178.3,144.7 L179.1,144.5 L179.9,144.3 L180.6,144.0 L181.4,143.8 L182.2,143.5 L183.0,143.3 L183.8,143.0 L184.5,142.7 L185.3,142.5 L186.1,142.2 L186.9,141.9 L187.7,141.7 L188.4,141.4 L189.2,141.2 L190.0,141.0 L190.8,140.7 L191.6,140.5 L192.3,140.3 L193.1,140.1 L193.9,139.9 L194.7,139.7 L195.5,139.4 L196.2,139.2 L197.0,139.0 L197.8,138.8 L198.6,138.6 L199.3,138.4 L200.1,138.2 L200.9,138.0 L201.7,137.9 L202.5,137.7 L203.2,137.5 L204.0,137.3 L204.8,137.1 L205.6,136.9 L206.4,136.8 L207.1,136.6 L207.9,136.4 L208.7,136.2 L209.5,136.1 L210.3,135.9 L211.0,135.7 L211.8,135.5 L212.6,135.4 L213.4,135.2 L214.1,135.0 L214.9,134.9 L215.7,134.7 L216.5,134.6 L217.3,134.4 L218.0,134.2 L218.8,134.1 L219.6,133.9 L220.4,133.7 L221.2,133.6 L221.9,133.4 L222.7,133.2 L223.5,133.1 L224.3,132.9 L225.1,132.7 L225.8,132.6 L226.6,132.4 L227.4,132.2 L228.2,132.1 L228.9,131.9 L229.7,131.7 L230.5,131.5 L231.3,131.4 L232.1,131.2 L232.8,131.0 L233.6,130.8 L234.4,130.7 L235.2,130.5 L236.0,130.3 L236.7,130.2 L237.5,130.0 L238.3,129.9 L239.1,129.7 L239.9,129.5 L240.6,129.4 L241.4,129.2 L242.2,129.0 L243.0,128.9 L243.7,128.7 L244.5,128.5 L245.3,128.4 L246.1,128.2 L246.9,128.0 L247.6,127.8 L248.4,127.7 L249.2,127.5 L250.0,127.3 L250.8,127.1 L251.5,126.9 L252.3,126.7 L253.1,126.5 L253.9,126.3 L254.7,126.1 L255.4,125.9 L256.2,125.7 L257.0,125.5 L257.8,125.3 L258.6,125.1 L259.3,124.9 L260.1,124.6 L260.9,124.4 L261.7,124.1 L262.4,123.9 L263.2,123.6 L264.0,123.4 L264.8,123.1 L265.6,122.8 L266.3,122.5 L267.1,122.2 L267.9,121.9 L268.7,121.6 L269.5,121.3 L270.2,121.0 L271.0,120.7 L271.8,120.4 L272.6,120.1 L273.4,119.7 L274.1,119.4 L274.9,119.1 L275.7,118.7 L276.5,118.4 L277.2,118.1 L278.0,117.7 L278.8,117.4 L279.6,117.0 L280.4,116.7 L281.1,116.3 L281.9,116.0 L282.7,115.6 L283.5,115.3 L284.3,114.9 L285.0,114.5 L285.8,114.1 L286.6,113.8 L287.4,113.4 L288.2,113.0 L288.9,112.6 L289.7,112.2 L290.5,111.8 L291.3,111.4 L292.0,111.0 L292.8,110.6 L293.6,110.2 L294.4,109.8 L295.2,109.3 L295.9,109.0 L296.7,108.6 L297.5,108.4" stroke="#8f6464"/>
</g>
<rect x="44.50" y="40.90" width="272.10" height="218.80" fill="none" stroke="#666" stroke-width="2.20"/>
<line x1="330.60" y1="134.50" x2="330.60" y2="156.50" stroke="#f0f0f0" stroke-width="1.20" />
<line x1="40.00" y1="259.90" x2="44.50" y2="259.90" stroke="#666" stroke-width="1.60" />
<text x="36.40" y="264.60" font-family='"Liberation Serif", serif' font-size="15.00" font-weight="bold" text-anchor="end" fill="#111" textLength="18.00" lengthAdjust="spacingAndGlyphs" stroke="#111" stroke-width="0.15" >-60</text>
<line x1="40.00" y1="223.40" x2="44.50" y2="223.40" stroke="#666" stroke-width="1.60" />
<text x="36.40" y="228.10" font-family='"Liberation Serif", serif' font-size="15.00" font-weight="bold" text-anchor="end" fill="#111" textLength="18.00" lengthAdjust="spacingAndGlyphs" stroke="#111" stroke-width="0.15" >-40</text>
<line x1="40.00" y1="186.90" x2="44.50" y2="186.90" stroke="#666" stroke-width="1.60" />
<text x="36.40" y="191.60" font-family='"Liberation Serif", serif' font-size="15.00" font-weight="bold" text-anchor="end" fill="#111" textLength="18.00" lengthAdjust="spacingAndGlyphs" stroke="#111" stroke-width="0.15" >-20</text>
<line x1="40.00" y1="150.40" x2="44.50" y2="150.40" stroke="#666" stroke-width="1.60" />
<text x="36.40" y="155.10" font-family='"Liberation Serif", serif' font-size="15.00" font-weight="bold" text-anchor="end" fill="#111" textLength="6.75" lengthAdjust="spacingAndGlyphs" stroke="#111" stroke-width="0.15" >0</text>
<line x1="40.00" y1="113.90" x2="44.50" y2="113.90" stroke="#666" stroke-width="1.60" />
<text x="36.40" y="118.60" font-family='"Liberation Serif", serif' font-size="15.00" font-weight="bold" text-anchor="end" fill="#111" textLength="13.50" lengthAdjust="spacingAndGlyphs" stroke="#111" stroke-width="0.15" >20</text>
<line x1="40.00" y1="77.40" x2="44.50" y2="77.40" stroke="#666" stroke-width="1.60" />
<text x="36.40" y="82.10" font-family='"Liberation Serif", serif' font-size="15.00" font-weight="bold" text-anchor="end" fill="#111" textLength="13.50" lengthAdjust="spacingAndGlyphs" stroke="#111" stroke-width="0.15" >40</text>
<line x1="40.00" y1="40.90" x2="44.50" y2="40.90" stroke="#666" stroke-width="1.60" />
<text x="36.40" y="45.60" font-family='"Liberation Serif", serif' font-size="15.00" font-weight="bold" text-anchor="end" fill="#111" textLength="13.50" lengthAdjust="spacingAndGlyphs" stroke="#111" stroke-width="0.15" >60</text>
<line x1="42.00" y1="241.65" x2="44.50" y2="241.65" stroke="#666" stroke-width="1.40" />
<line x1="42.00" y1="205.15" x2="44.50" y2="205.15" stroke="#666" stroke-width="1.40" />
<line x1="42.00" y1="168.65" x2="44.50" y2="168.65" stroke="#666" stroke-width="1.40" />
<line x1="42.00" y1="132.15" x2="44.50" y2="132.15" stroke="#666" stroke-width="1.40" />
<line x1="42.00" y1="95.65" x2="44.50" y2="95.65" stroke="#666" stroke-width="1.40" />
<line x1="42.00" y1="59.15" x2="44.50" y2="59.15" stroke="#666" stroke-width="1.40" />
<line x1="63.80" y1="259.70" x2="63.80" y2="264.20" stroke="#666" stroke-width="1.60" />
<text x="63.80" y="278.80" font-family='"Liberation Serif", serif' font-size="15.00" font-weight="bold" text-anchor="middle" fill="#111" textLength="21.37" lengthAdjust="spacingAndGlyphs" stroke="#111" stroke-width="0.15" >-0.2</text>
<line x1="102.75" y1="259.70" x2="102.75" y2="264.20" stroke="#666" stroke-width="1.60" />
<text x="102.75" y="278.80" font-family='"Liberation Serif", serif' font-size="15.00" font-weight="bold" text-anchor="middle" fill="#111" textLength="16.88" lengthAdjust="spacingAndGlyphs" stroke="#111" stroke-width="0.15" >0.0</text>
<line x1="141.70" y1="259.70" x2="141.70" y2="264.20" stroke="#666" stroke-width="1.60" />
<text x="141.70" y="278.80" font-family='"Liberation Serif", serif' font-size="15.00" font-weight="bold" text-anchor="middle" fill="#111" textLength="16.88" lengthAdjust="spacingAndGlyphs" stroke="#111" stroke-width="0.15" >0.2</text>
<line x1="180.65" y1="259.70" x2="180.65" y2="264.20" stroke="#666" stroke-width="1.60" />
<text x="180.65" y="278.80" font-family='"Liberation Serif", serif' font-size="15.00" font-weight="bold" text-anchor="middle" fill="#111" textLength="16.88" lengthAdjust="spacingAndGlyphs" stroke="#111" stroke-width="0.15" >0.4</text>
<line x1="219.60" y1="259.70" x2="219.60" y2="264.20" stroke="#666" stroke-width="1.60" />
<text x="219.60" y="278.80" font-family='"Liberation Serif", serif' font-size="15.00" font-weight="bold" text-anchor="middle" fill="#111" textLength="16.88" lengthAdjust="spacingAndGlyphs" stroke="#111" stroke-width="0.15" >0.6</text>
<line x1="258.55" y1="259.70" x2="258.55" y2="264.20" stroke="#666" stroke-width="1.60" />
<text x="258.55" y="278.80" font-family='"Liberation Serif", serif' font-size="15.00" font-weight="bold" text-anchor="middle" fill="#111" textLength="16.88" lengthAdjust="spacingAndGlyphs" stroke="#111" stroke-width="0.15" >0.8</text>
<line x1="297.50" y1="259.70" x2="297.50" y2="264.20" stroke="#666" stroke-width="1.60" />
<text x="297.50" y="278.80" font-family='"Liberation Serif", serif' font-size="15.00" font-weight="bold" text-anchor="middle" fill="#111" textLength="16.88" lengthAdjust="spacingAndGlyphs" stroke="#111" stroke-width="0.15" >1.0</text>
<line x1="83.28" y1="259.70" x2="83.28" y2="262.20" stroke="#666" stroke-width="1.40" />
<line x1="122.22" y1="259.70" x2="122.22" y2="262.20" stroke="#666" stroke-width="1.40" />
<line x1="161.18" y1="259.70" x2="161.18" y2="262.20" stroke="#666" stroke-width="1.40" />
<line x1="200.12" y1="259.70" x2="200.12" y2="262.20" stroke="#666" stroke-width="1.40" />
<line x1="239.07" y1="259.70" x2="239.07" y2="262.20" stroke="#666" stroke-width="1.40" />
<line x1="278.02" y1="259.70" x2="278.02" y2="262.20" stroke="#666" stroke-width="1.40" />
<text x="182.40" y="300.00" font-family='"Liberation Serif", serif' font-size="16.00" font-weight="bold" text-anchor="middle" fill="#111" textLength="166.30" lengthAdjust="spacingAndGlyphs" >Potential (<tspan font-style="italic">V</tspan>) vs Ag/AgCl</text>
<text x="0.00" y="0.00" font-family='"Liberation Serif", serif' font-size="16.00" font-weight="bold" text-anchor="middle" fill="#111" textLength="88.90" lengthAdjust="spacingAndGlyphs" stroke="#111" stroke-width="0.20" transform="translate(14.5,141) rotate(-90)">Current (μA)</text>
<rect x="230.3" y="147" width="74.3" height="112.7" fill="#fff" stroke="#999" stroke-width="1"/>
<line x1="231.50" y1="155.20" x2="256.30" y2="155.20" stroke="#666666" stroke-width="2.00" />
<text x="259.00" y="159.20" font-family='"Liberation Serif", serif' font-size="11.10" font-weight="bold" text-anchor="start" fill="#111" stroke="#111" stroke-width="0.20" >25 mV/s</text>
<line x1="231.50" y1="169.20" x2="256.30" y2="169.20" stroke="#f04848" stroke-width="2.00" />
<text x="259.00" y="173.20" font-family='"Liberation Serif", serif' font-size="11.10" font-weight="bold" text-anchor="start" fill="#111" stroke="#111" stroke-width="0.20" >50 mV/s</text>
<line x1="231.50" y1="183.20" x2="256.30" y2="183.20" stroke="#3f7fe0" stroke-width="2.00" />
<text x="259.00" y="187.20" font-family='"Liberation Serif", serif' font-size="11.10" font-weight="bold" text-anchor="start" fill="#111" stroke="#111" stroke-width="0.20" >75 mV/s</text>
<line x1="231.50" y1="197.20" x2="256.30" y2="197.20" stroke="#4caf72" stroke-width="2.00" />
<text x="259.00" y="201.20" font-family='"Liberation Serif", serif' font-size="11.10" font-weight="bold" text-anchor="start" fill="#111" stroke="#111" stroke-width="0.20" >100 mV/s</text>
<line x1="231.50" y1="211.20" x2="256.30" y2="211.20" stroke="#b98aee" stroke-width="2.00" />
<text x="259.00" y="215.20" font-family='"Liberation Serif", serif' font-size="11.10" font-weight="bold" text-anchor="start" fill="#111" stroke="#111" stroke-width="0.20" >125 mV/s</text>
<line x1="231.50" y1="225.20" x2="256.30" y2="225.20" stroke="#d6aa30" stroke-width="2.00" />
<text x="259.00" y="229.20" font-family='"Liberation Serif", serif' font-size="11.10" font-weight="bold" text-anchor="start" fill="#111" stroke="#111" stroke-width="0.20" >150 mV/s</text>
<line x1="231.50" y1="239.20" x2="256.30" y2="239.20" stroke="#36d6d6" stroke-width="2.00" />
<text x="259.00" y="243.20" font-family='"Liberation Serif", serif' font-size="11.10" font-weight="bold" text-anchor="start" fill="#111" stroke="#111" stroke-width="0.20" >175 mV/s</text>
<line x1="231.50" y1="253.20" x2="256.30" y2="253.20" stroke="#8f6464" stroke-width="2.00" />
<text x="259.00" y="257.20" font-family='"Liberation Serif", serif' font-size="11.10" font-weight="bold" text-anchor="start" fill="#111" stroke="#111" stroke-width="0.20" >200 mV/s</text>
<text x="528.70" y="21.50" font-family='"Liberation Sans", sans-serif' font-size="28.00" font-weight="bold" text-anchor="middle" fill="#000" >b</text>
<line x1="423.91" y1="128.27" x2="648.89" y2="57.04" stroke="#606060" stroke-width="2.00" />
<line x1="423.91" y1="192.72" x2="648.89" y2="248.15" stroke="#f04444" stroke-width="2.20" />
<rect x="421.76" y="135.32" width="4.3" height="4.3" fill="#222"/>
<circle cx="423.91" cy="190.53" r="2.5" fill="#f0282d"/>
<line x1="474.88" y1="204.46" x2="474.88" y2="209.46" stroke="#f5a0a0" stroke-width="0.90" />
<line x1="473.28" y1="204.46" x2="476.48" y2="204.46" stroke="#f5a0a0" stroke-width="0.90" />
<line x1="473.28" y1="209.46" x2="476.48" y2="209.46" stroke="#f5a0a0" stroke-width="0.90" />
<rect x="472.73" y="103.83" width="4.3" height="4.3" fill="#222"/>
<circle cx="474.88" cy="206.96" r="2.5" fill="#f0282d"/>
<line x1="513.99" y1="93.39" x2="513.99" y2="98.39" stroke="#999" stroke-width="0.90" />
<line x1="512.39" y1="93.39" x2="515.59" y2="93.39" stroke="#999" stroke-width="0.90" />
<line x1="512.39" y1="98.39" x2="515.59" y2="98.39" stroke="#999" stroke-width="0.90" />
<line x1="513.99" y1="212.77" x2="513.99" y2="219.77" stroke="#f5a0a0" stroke-width="0.90" />
<line x1="512.39" y1="212.77" x2="515.59" y2="212.77" stroke="#f5a0a0" stroke-width="0.90" />
<line x1="512.39" y1="219.77" x2="515.59" y2="219.77" stroke="#f5a0a0" stroke-width="0.90" />
<rect x="511.84" y="93.74" width="4.3" height="4.3" fill="#222"/>
<circle cx="513.99" cy="216.27" r="2.5" fill="#f0282d"/>
<line x1="546.96" y1="82.98" x2="546.96" y2="90.98" stroke="#999" stroke-width="0.90" />
<line x1="545.36" y1="82.98" x2="548.56" y2="82.98" stroke="#999" stroke-width="0.90" />
<line x1="545.36" y1="90.98" x2="548.56" y2="90.98" stroke="#999" stroke-width="0.90" />
<line x1="546.96" y1="219.99" x2="546.96" y2="228.39" stroke="#f5a0a0" stroke-width="0.90" />
<line x1="545.36" y1="219.99" x2="548.56" y2="219.99" stroke="#f5a0a0" stroke-width="0.90" />
<line x1="545.36" y1="228.39" x2="548.56" y2="228.39" stroke="#f5a0a0" stroke-width="0.90" />
<rect x="544.81" y="84.83" width="4.3" height="4.3" fill="#222"/>
<circle cx="546.96" cy="224.19" r="2.5" fill="#f0282d"/>
<line x1="576.01" y1="74.85" x2="576.01" y2="85.25" stroke="#999" stroke-width="0.90" />
<line x1="574.41" y1="74.85" x2="577.61" y2="74.85" stroke="#999" stroke-width="0.90" />
<line x1="574.41" y1="85.25" x2="577.61" y2="85.25" stroke="#999" stroke-width="0.90" />
<line x1="576.01" y1="225.33" x2="576.01" y2="234.93" stroke="#f5a0a0" stroke-width="0.90" />
<line x1="574.41" y1="225.33" x2="577.61" y2="225.33" stroke="#f5a0a0" stroke-width="0.90" />
<line x1="574.41" y1="234.93" x2="577.61" y2="234.93" stroke="#f5a0a0" stroke-width="0.90" />
<rect x="573.86" y="77.90" width="4.3" height="4.3" fill="#222"/>
<circle cx="576.01" cy="230.13" r="2.5" fill="#f0282d"/>
<line x1="602.27" y1="67.81" x2="602.27" y2="78.81" stroke="#999" stroke-width="0.90" />
<line x1="600.67" y1="67.81" x2="603.87" y2="67.81" stroke="#999" stroke-width="0.90" />
<line x1="600.67" y1="78.81" x2="603.87" y2="78.81" stroke="#999" stroke-width="0.90" />
<line x1="602.27" y1="230.87" x2="602.27" y2="241.27" stroke="#f5a0a0" stroke-width="0.90" />
<line x1="600.67" y1="230.87" x2="603.87" y2="230.87" stroke="#f5a0a0" stroke-width="0.90" />
<line x1="600.67" y1="241.27" x2="603.87" y2="241.27" stroke="#f5a0a0" stroke-width="0.90" />
<rect x="600.12" y="71.16" width="4.3" height="4.3" fill="#222"/>
<circle cx="602.27" cy="236.07" r="2.5" fill="#f0282d"/>
<line x1="626.42" y1="60.58" x2="626.42" y2="72.58" stroke="#999" stroke-width="0.90" />
<line x1="624.82" y1="60.58" x2="628.02" y2="60.58" stroke="#999" stroke-width="0.90" />
<line x1="624.82" y1="72.58" x2="628.02" y2="72.58" stroke="#999" stroke-width="0.90" />
<line x1="626.42" y1="236.41" x2="626.42" y2="247.61" stroke="#f5a0a0" stroke-width="0.90" />
<line x1="624.82" y1="236.41" x2="628.02" y2="236.41" stroke="#f5a0a0" stroke-width="0.90" />
<line x1="624.82" y1="247.61" x2="628.02" y2="247.61" stroke="#f5a0a0" stroke-width="0.90" />
<rect x="624.27" y="64.43" width="4.3" height="4.3" fill="#222"/>
<circle cx="626.42" cy="242.01" r="2.5" fill="#f0282d"/>
<line x1="648.90" y1="54.24" x2="648.90" y2="67.04" stroke="#999" stroke-width="0.90" />
<line x1="647.30" y1="54.24" x2="650.50" y2="54.24" stroke="#999" stroke-width="0.90" />
<line x1="647.30" y1="67.04" x2="650.50" y2="67.04" stroke="#999" stroke-width="0.90" />
<line x1="648.90" y1="240.96" x2="648.90" y2="252.96" stroke="#f5a0a0" stroke-width="0.90" />
<line x1="647.30" y1="240.96" x2="650.50" y2="240.96" stroke="#f5a0a0" stroke-width="0.90" />
<line x1="647.30" y1="252.96" x2="650.50" y2="252.96" stroke="#f5a0a0" stroke-width="0.90" />
<rect x="646.75" y="58.49" width="4.3" height="4.3" fill="#222"/>
<circle cx="648.90" cy="246.96" r="2.5" fill="#f0282d"/>
<rect x="399.30" y="35.50" width="270.70" height="217.50" fill="none" stroke="#666" stroke-width="2.00"/>
<line x1="394.30" y1="35.10" x2="399.30" y2="35.10" stroke="#666" stroke-width="1.50" />
<text x="391.30" y="39.90" font-family='"Liberation Sans", sans-serif' font-size="13.50" font-weight="bold" text-anchor="end" fill="#333" stroke="#333" stroke-width="0.20" >60</text>
<line x1="394.30" y1="94.50" x2="399.30" y2="94.50" stroke="#666" stroke-width="1.50" />
<text x="391.30" y="99.30" font-family='"Liberation Sans", sans-serif' font-size="13.50" font-weight="bold" text-anchor="end" fill="#333" stroke="#333" stroke-width="0.20" >30</text>
<line x1="394.30" y1="153.90" x2="399.30" y2="153.90" stroke="#666" stroke-width="1.50" />
<text x="391.30" y="158.70" font-family='"Liberation Sans", sans-serif' font-size="13.50" font-weight="bold" text-anchor="end" fill="#333" stroke="#333" stroke-width="0.20" >0</text>
<line x1="394.30" y1="213.30" x2="399.30" y2="213.30" stroke="#666" stroke-width="1.50" />
<text x="391.30" y="218.10" font-family='"Liberation Sans", sans-serif' font-size="13.50" font-weight="bold" text-anchor="end" fill="#333" stroke="#333" stroke-width="0.20" >-30</text>
<line x1="396.80" y1="64.80" x2="399.30" y2="64.80" stroke="#666" stroke-width="1.30" />
<line x1="396.80" y1="124.20" x2="399.30" y2="124.20" stroke="#666" stroke-width="1.30" />
<line x1="396.80" y1="183.60" x2="399.30" y2="183.60" stroke="#666" stroke-width="1.30" />
<line x1="396.80" y1="243.00" x2="399.30" y2="243.00" stroke="#666" stroke-width="1.30" />
<line x1="448.52" y1="253.00" x2="448.52" y2="257.50" stroke="#666" stroke-width="1.50" />
<text x="448.52" y="271.00" font-family='"Liberation Sans", sans-serif' font-size="13.50" font-weight="bold" text-anchor="middle" fill="#333" stroke="#333" stroke-width="0.20" >6</text>
<line x1="522.35" y1="253.00" x2="522.35" y2="257.50" stroke="#666" stroke-width="1.50" />
<text x="522.35" y="271.00" font-family='"Liberation Sans", sans-serif' font-size="13.50" font-weight="bold" text-anchor="middle" fill="#333" stroke="#333" stroke-width="0.20" >9</text>
<line x1="596.18" y1="253.00" x2="596.18" y2="257.50" stroke="#666" stroke-width="1.50" />
<text x="596.18" y="271.00" font-family='"Liberation Sans", sans-serif' font-size="13.50" font-weight="bold" text-anchor="middle" fill="#333" stroke="#333" stroke-width="0.20" >12</text>
<line x1="670.01" y1="253.00" x2="670.01" y2="257.50" stroke="#666" stroke-width="1.50" />
<text x="670.01" y="271.00" font-family='"Liberation Sans", sans-serif' font-size="13.50" font-weight="bold" text-anchor="middle" fill="#333" stroke="#333" stroke-width="0.20" >15</text>
<line x1="411.61" y1="253.00" x2="411.61" y2="255.50" stroke="#666" stroke-width="1.30" />
<line x1="485.44" y1="253.00" x2="485.44" y2="255.50" stroke="#666" stroke-width="1.30" />
<line x1="559.26" y1="253.00" x2="559.26" y2="255.50" stroke="#666" stroke-width="1.30" />
<line x1="633.10" y1="253.00" x2="633.10" y2="255.50" stroke="#666" stroke-width="1.30" />
<text x="428.30" y="288.30" font-family='"Liberation Sans", sans-serif' font-size="13.40" font-weight="bold" text-anchor="start" fill="#333" textLength="192.50" lengthAdjust="spacingAndGlyphs" >Square root scan rate (v/mV.s)</text>
<text x="621.50" y="283.30" font-family='"Liberation Sans", sans-serif' font-size="12.50" font-weight="bold" text-anchor="start" fill="#333" textLength="17.50" lengthAdjust="spacingAndGlyphs" >1/2</text>
<text x="0.00" y="0.00" font-family='"Liberation Serif", serif' font-size="16.00" font-weight="bold" text-anchor="middle" fill="#222" textLength="91.00" lengthAdjust="spacingAndGlyphs" stroke="#222" stroke-width="0.30" transform="translate(366.2,137.4) rotate(-90)">Current (μA)</text>
<line x1="410.20" y1="59.90" x2="435.60" y2="59.90" stroke="#555" stroke-width="1.60" />
<text x="436.50" y="67.00" font-family='"Liberation Sans", sans-serif' font-size="12.30" font-weight="bold" text-anchor="start" fill="#333" textLength="124.00" lengthAdjust="spacingAndGlyphs" stroke="#333" stroke-width="0.30" >IPa=124.43 <tspan font-style="italic">v</tspan><tspan font-size="8" dy="-4">1/2</tspan><tspan dy="4"> - 6.726</tspan></text>
<text x="436.50" y="86.70" font-family='"Liberation Sans", sans-serif' font-size="12.30" font-weight="bold" text-anchor="start" fill="#333" textLength="59.30" lengthAdjust="spacingAndGlyphs" stroke="#333" stroke-width="0.30" >R<tspan font-size="10" dy="-5">2</tspan><tspan dy="5">=0.9950</tspan></text>
<line x1="404.60" y1="230.00" x2="428.50" y2="230.00" stroke="#f03a3a" stroke-width="1.90" />
<text x="430.60" y="236.60" font-family='"Liberation Sans", sans-serif' font-size="10.80" font-weight="bold" text-anchor="start" fill="#333" textLength="108.00" lengthAdjust="spacingAndGlyphs" stroke="#333" stroke-width="0.25" >Ipc=-96.826 <tspan font-style="italic">v</tspan><tspan font-size="7" dy="-4">1/2</tspan><tspan dy="4"> - 4.298</tspan></text>
<text x="430.60" y="250.80" font-family='"Liberation Sans", sans-serif' font-size="10.80" font-weight="bold" text-anchor="start" fill="#333" textLength="48.00" lengthAdjust="spacingAndGlyphs" stroke="#333" stroke-width="0.25" >R<tspan font-size="7" dy="-4">2</tspan><tspan dy="4">=0.9634</tspan></text>
<text x="181.50" y="341.20" font-family='"Liberation Sans", sans-serif' font-size="28.00" font-weight="bold" text-anchor="middle" fill="#000" >c</text>
<line x1="61.65" y1="439.29" x2="301.31" y2="370.88" stroke="#555" stroke-width="2.00" />
<line x1="61.65" y1="516.27" x2="301.31" y2="570.17" stroke="#f04444" stroke-width="2.20" />
<rect x="59.50" y="453.38" width="4.3" height="4.3" fill="#222"/>
<circle cx="61.65" cy="509.55" r="2.5" fill="#f0282d"/>
<line x1="95.88" y1="524.31" x2="95.88" y2="527.31" stroke="#f5a0a0" stroke-width="0.90" />
<line x1="94.28" y1="524.31" x2="97.48" y2="524.31" stroke="#f5a0a0" stroke-width="0.90" />
<line x1="94.28" y1="527.31" x2="97.48" y2="527.31" stroke="#f5a0a0" stroke-width="0.90" />
<rect x="93.73" y="421.26" width="4.3" height="4.3" fill="#222"/>
<circle cx="95.88" cy="525.81" r="2.5" fill="#f0282d"/>
<line x1="130.12" y1="533.15" x2="130.12" y2="538.15" stroke="#f5a0a0" stroke-width="0.90" />
<line x1="128.52" y1="533.15" x2="131.72" y2="533.15" stroke="#f5a0a0" stroke-width="0.90" />
<line x1="128.52" y1="538.15" x2="131.72" y2="538.15" stroke="#f5a0a0" stroke-width="0.90" />
<rect x="127.97" y="411.02" width="4.3" height="4.3" fill="#222"/>
<circle cx="130.12" cy="535.65" r="2.5" fill="#f0282d"/>
<line x1="164.36" y1="403.24" x2="164.36" y2="407.84" stroke="#999" stroke-width="0.90" />
<line x1="162.76" y1="403.24" x2="165.96" y2="403.24" stroke="#999" stroke-width="0.90" />
<line x1="162.76" y1="407.84" x2="165.96" y2="407.84" stroke="#999" stroke-width="0.90" />
<line x1="164.36" y1="540.28" x2="164.36" y2="546.28" stroke="#f5a0a0" stroke-width="0.90" />
<line x1="162.76" y1="540.28" x2="165.96" y2="540.28" stroke="#f5a0a0" stroke-width="0.90" />
<line x1="162.76" y1="546.28" x2="165.96" y2="546.28" stroke="#f5a0a0" stroke-width="0.90" />
<rect x="162.21" y="403.39" width="4.3" height="4.3" fill="#222"/>
<circle cx="164.36" cy="543.28" r="2.5" fill="#f0282d"/>
<line x1="198.60" y1="394.10" x2="198.60" y2="401.70" stroke="#999" stroke-width="0.90" />
<line x1="197.00" y1="394.10" x2="200.20" y2="394.10" stroke="#999" stroke-width="0.90" />
<line x1="197.00" y1="401.70" x2="200.20" y2="401.70" stroke="#999" stroke-width="0.90" />
<line x1="198.60" y1="546.21" x2="198.60" y2="553.21" stroke="#f5a0a0" stroke-width="0.90" />
<line x1="197.00" y1="546.21" x2="200.20" y2="546.21" stroke="#f5a0a0" stroke-width="0.90" />
<line x1="197.00" y1="553.21" x2="200.20" y2="553.21" stroke="#f5a0a0" stroke-width="0.90" />
<rect x="196.45" y="395.75" width="4.3" height="4.3" fill="#222"/>
<circle cx="198.60" cy="549.71" r="2.5" fill="#f0282d"/>
<line x1="232.83" y1="385.98" x2="232.83" y2="394.98" stroke="#999" stroke-width="0.90" />
<line x1="231.23" y1="385.98" x2="234.43" y2="385.98" stroke="#999" stroke-width="0.90" />
<line x1="231.23" y1="394.98" x2="234.43" y2="394.98" stroke="#999" stroke-width="0.90" />
<line x1="232.83" y1="552.74" x2="232.83" y2="560.74" stroke="#f5a0a0" stroke-width="0.90" />
<line x1="231.23" y1="552.74" x2="234.43" y2="552.74" stroke="#f5a0a0" stroke-width="0.90" />
<line x1="231.23" y1="560.74" x2="234.43" y2="560.74" stroke="#f5a0a0" stroke-width="0.90" />
<rect x="230.68" y="388.33" width="4.3" height="4.3" fill="#222"/>
<circle cx="232.83" cy="556.74" r="2.5" fill="#f0282d"/>
<line x1="267.07" y1="378.95" x2="267.07" y2="387.95" stroke="#999" stroke-width="0.90" />
<line x1="265.47" y1="378.95" x2="268.67" y2="378.95" stroke="#999" stroke-width="0.90" />
<line x1="265.47" y1="387.95" x2="268.67" y2="387.95" stroke="#999" stroke-width="0.90" />
<line x1="267.07" y1="557.06" x2="267.07" y2="566.06" stroke="#f5a0a0" stroke-width="0.90" />
<line x1="265.47" y1="557.06" x2="268.67" y2="557.06" stroke="#f5a0a0" stroke-width="0.90" />
<line x1="265.47" y1="566.06" x2="268.67" y2="566.06" stroke="#f5a0a0" stroke-width="0.90" />
<rect x="264.92" y="381.30" width="4.3" height="4.3" fill="#222"/>
<circle cx="267.07" cy="561.56" r="2.5" fill="#f0282d"/>
<line x1="301.31" y1="372.52" x2="301.31" y2="383.12" stroke="#999" stroke-width="0.90" />
<line x1="299.71" y1="372.52" x2="302.91" y2="372.52" stroke="#999" stroke-width="0.90" />
<line x1="299.71" y1="383.12" x2="302.91" y2="383.12" stroke="#999" stroke-width="0.90" />
<line x1="301.31" y1="561.58" x2="301.31" y2="571.58" stroke="#f5a0a0" stroke-width="0.90" />
<line x1="299.71" y1="561.58" x2="302.91" y2="561.58" stroke="#f5a0a0" stroke-width="0.90" />
<line x1="299.71" y1="571.58" x2="302.91" y2="571.58" stroke="#f5a0a0" stroke-width="0.90" />
<rect x="299.16" y="375.67" width="4.3" height="4.3" fill="#222"/>
<circle cx="301.31" cy="566.58" r="2.5" fill="#f0282d"/>
<rect x="54.80" y="351.50" width="273.90" height="220.90" fill="none" stroke="#666" stroke-width="2.00"/>
<line x1="49.80" y1="351.52" x2="54.80" y2="351.52" stroke="#666" stroke-width="1.50" />
<text x="47.00" y="356.32" font-family='"Liberation Sans", sans-serif' font-size="13.50" font-weight="bold" text-anchor="end" fill="#333" stroke="#333" stroke-width="0.20" >60</text>
<line x1="49.80" y1="411.76" x2="54.80" y2="411.76" stroke="#666" stroke-width="1.50" />
<text x="47.00" y="416.56" font-family='"Liberation Sans", sans-serif' font-size="13.50" font-weight="bold" text-anchor="end" fill="#333" stroke="#333" stroke-width="0.20" >30</text>
<line x1="49.80" y1="472.00" x2="54.80" y2="472.00" stroke="#666" stroke-width="1.50" />
<text x="47.00" y="476.80" font-family='"Liberation Sans", sans-serif' font-size="13.50" font-weight="bold" text-anchor="end" fill="#333" stroke="#333" stroke-width="0.20" >0</text>
<line x1="49.80" y1="532.24" x2="54.80" y2="532.24" stroke="#666" stroke-width="1.50" />
<text x="47.00" y="537.04" font-family='"Liberation Sans", sans-serif' font-size="13.50" font-weight="bold" text-anchor="end" fill="#333" stroke="#333" stroke-width="0.20" >-30</text>
<line x1="52.30" y1="381.64" x2="54.80" y2="381.64" stroke="#666" stroke-width="1.30" />
<line x1="52.30" y1="441.88" x2="54.80" y2="441.88" stroke="#666" stroke-width="1.30" />
<line x1="52.30" y1="502.12" x2="54.80" y2="502.12" stroke="#666" stroke-width="1.30" />
<line x1="52.30" y1="562.36" x2="54.80" y2="562.36" stroke="#666" stroke-width="1.30" />
<line x1="95.88" y1="572.40" x2="95.88" y2="576.90" stroke="#666" stroke-width="1.50" />
<text x="96.48" y="591.20" font-family='"Liberation Sans", sans-serif' font-size="14.00" font-weight="bold" text-anchor="middle" fill="#333" stroke="#333" stroke-width="0.20" >50</text>
<line x1="164.36" y1="572.40" x2="164.36" y2="576.90" stroke="#666" stroke-width="1.50" />
<text x="164.96" y="591.20" font-family='"Liberation Sans", sans-serif' font-size="14.00" font-weight="bold" text-anchor="middle" fill="#333" stroke="#333" stroke-width="0.20" >100</text>
<line x1="232.83" y1="572.40" x2="232.83" y2="576.90" stroke="#666" stroke-width="1.50" />
<text x="233.43" y="591.20" font-family='"Liberation Sans", sans-serif' font-size="14.00" font-weight="bold" text-anchor="middle" fill="#333" stroke="#333" stroke-width="0.20" >150</text>
<line x1="301.31" y1="572.40" x2="301.31" y2="576.90" stroke="#666" stroke-width="1.50" />
<text x="301.91" y="591.20" font-family='"Liberation Sans", sans-serif' font-size="14.00" font-weight="bold" text-anchor="middle" fill="#333" stroke="#333" stroke-width="0.20" >200</text>
<line x1="61.65" y1="572.40" x2="61.65" y2="574.90" stroke="#666" stroke-width="1.30" />
<line x1="130.12" y1="572.40" x2="130.12" y2="574.90" stroke="#666" stroke-width="1.30" />
<line x1="198.60" y1="572.40" x2="198.60" y2="574.90" stroke="#666" stroke-width="1.30" />
<line x1="267.07" y1="572.40" x2="267.07" y2="574.90" stroke="#666" stroke-width="1.30" />
<text x="178.60" y="611.50" font-family='"Liberation Sans", sans-serif' font-size="13.50" font-weight="bold" text-anchor="middle" fill="#333" textLength="106.40" lengthAdjust="spacingAndGlyphs" >Scan rate (mV/s)</text>
<text x="0.00" y="0.00" font-family='"Liberation Serif", serif' font-size="16.00" font-weight="bold" text-anchor="middle" fill="#222" textLength="90.50" lengthAdjust="spacingAndGlyphs" stroke="#222" stroke-width="0.30" transform="translate(26.3,464) rotate(-90)">Current (μA)</text>
<line x1="67.90" y1="372.40" x2="88.50" y2="372.40" stroke="#444" stroke-width="2.00" />
<text x="89.70" y="374.90" font-family='"Liberation Sans", sans-serif' font-size="11.80" font-weight="bold" text-anchor="start" fill="#2a2a2a" textLength="106.80" lengthAdjust="spacingAndGlyphs" stroke="#2a2a2a" stroke-width="0.10" >IPa=194.70 v + 11.420</text>
<text x="89.70" y="388.50" font-family='"Liberation Sans", sans-serif' font-size="11.80" font-weight="bold" text-anchor="start" fill="#2a2a2a" textLength="51.00" lengthAdjust="spacingAndGlyphs" stroke="#2a2a2a" stroke-width="0.10" >R<tspan font-size="7" dy="-4">2</tspan><tspan dy="4">=0.9042</tspan></text>
<line x1="66.20" y1="552.40" x2="86.00" y2="552.40" stroke="#f03a3a" stroke-width="1.80" />
<text x="87.30" y="556.10" font-family='"Liberation Sans", sans-serif' font-size="11.80" font-weight="bold" text-anchor="start" fill="#2a2a2a" textLength="103.70" lengthAdjust="spacingAndGlyphs" stroke="#2a2a2a" stroke-width="0.10" >IPc=153.40 v - 18.210</text>
<text x="87.30" y="569.70" font-family='"Liberation Sans", sans-serif' font-size="11.80" font-weight="bold" text-anchor="start" fill="#2a2a2a" textLength="50.80" lengthAdjust="spacingAndGlyphs" stroke="#2a2a2a" stroke-width="0.10" >R<tspan font-size="7" dy="-4">2</tspan><tspan dy="4">=0.9575</tspan></text>
<text x="527.00" y="333.50" font-family='"Liberation Sans", sans-serif' font-size="28.00" font-weight="bold" text-anchor="middle" fill="#000" >d</text>
<line x1="427.66" y1="377.83" x2="658.89" y2="374.43" stroke="#555" stroke-width="1.80" />
<line x1="427.66" y1="438.70" x2="658.89" y2="542.98" stroke="#f05c5c" stroke-width="2.20" />
<rect x="425.36" y="375.58" width="4.6" height="4.6" rx="0.8" fill="#333"/>
<circle cx="427.66" cy="450.83" r="2.9" fill="#f0282d"/>
<rect x="567.18" y="374.09" width="4.6" height="4.6" rx="0.8" fill="#333"/>
<circle cx="569.48" cy="481.35" r="2.9" fill="#f0282d"/>
<rect x="585.68" y="373.91" width="4.6" height="4.6" rx="0.8" fill="#333"/>
<circle cx="587.98" cy="499.95" r="2.9" fill="#f0282d"/>
<rect x="610.34" y="373.35" width="4.6" height="4.6" rx="0.8" fill="#333"/>
<circle cx="612.64" cy="514.84" r="2.9" fill="#f0282d"/>
<rect x="619.59" y="372.98" width="4.6" height="4.6" rx="0.8" fill="#333"/>
<circle cx="621.89" cy="526.01" r="2.9" fill="#f0282d"/>
<rect x="635.01" y="372.79" width="4.6" height="4.6" rx="0.8" fill="#333"/>
<circle cx="637.31" cy="538.29" r="2.9" fill="#f0282d"/>
<rect x="647.34" y="372.60" width="4.6" height="4.6" rx="0.8" fill="#333"/>
<circle cx="649.64" cy="547.22" r="2.9" fill="#f0282d"/>
<rect x="656.59" y="372.23" width="4.6" height="4.6" rx="0.8" fill="#333"/>
<circle cx="658.89" cy="556.90" r="2.9" fill="#f0282d"/>
<rect x="403.00" y="345.50" width="277.60" height="223.30" fill="none" stroke="#666" stroke-width="2.00"/>
<line x1="398.00" y1="568.81" x2="403.00" y2="568.81" stroke="#666" stroke-width="1.50" />
<text x="395.00" y="573.71" font-family='"Liberation Sans", sans-serif' font-size="13.70" font-weight="bold" text-anchor="end" fill="#333" stroke="#333" stroke-width="0.20" >-50</text>
<line x1="398.00" y1="531.59" x2="403.00" y2="531.59" stroke="#666" stroke-width="1.50" />
<text x="395.00" y="536.49" font-family='"Liberation Sans", sans-serif' font-size="13.70" font-weight="bold" text-anchor="end" fill="#333" stroke="#333" stroke-width="0.20" >-40</text>
<line x1="398.00" y1="494.37" x2="403.00" y2="494.37" stroke="#666" stroke-width="1.50" />
<text x="395.00" y="499.27" font-family='"Liberation Sans", sans-serif' font-size="13.70" font-weight="bold" text-anchor="end" fill="#333" stroke="#333" stroke-width="0.20" >-30</text>
<line x1="398.00" y1="457.15" x2="403.00" y2="457.15" stroke="#666" stroke-width="1.50" />
<text x="395.00" y="462.05" font-family='"Liberation Sans", sans-serif' font-size="13.70" font-weight="bold" text-anchor="end" fill="#333" stroke="#333" stroke-width="0.20" >-20</text>
<line x1="398.00" y1="419.94" x2="403.00" y2="419.94" stroke="#666" stroke-width="1.50" />
<text x="395.00" y="424.84" font-family='"Liberation Sans", sans-serif' font-size="13.70" font-weight="bold" text-anchor="end" fill="#333" stroke="#333" stroke-width="0.20" >-10</text>
<line x1="398.00" y1="382.72" x2="403.00" y2="382.72" stroke="#666" stroke-width="1.50" />
<text x="395.00" y="387.62" font-family='"Liberation Sans", sans-serif' font-size="13.70" font-weight="bold" text-anchor="end" fill="#333" stroke="#333" stroke-width="0.20" >0</text>
<line x1="398.00" y1="345.50" x2="403.00" y2="345.50" stroke="#666" stroke-width="1.50" />
<text x="395.00" y="350.40" font-family='"Liberation Sans", sans-serif' font-size="13.70" font-weight="bold" text-anchor="end" fill="#333" stroke="#333" stroke-width="0.20" >10</text>
<line x1="400.50" y1="550.20" x2="403.00" y2="550.20" stroke="#666" stroke-width="1.30" />
<line x1="400.50" y1="512.98" x2="403.00" y2="512.98" stroke="#666" stroke-width="1.30" />
<line x1="400.50" y1="475.76" x2="403.00" y2="475.76" stroke="#666" stroke-width="1.30" />
<line x1="400.50" y1="438.55" x2="403.00" y2="438.55" stroke="#666" stroke-width="1.30" />
<line x1="400.50" y1="401.33" x2="403.00" y2="401.33" stroke="#666" stroke-width="1.30" />
<line x1="400.50" y1="364.11" x2="403.00" y2="364.11" stroke="#666" stroke-width="1.30" />
<line x1="418.42" y1="568.80" x2="418.42" y2="573.30" stroke="#666" stroke-width="1.50" />
<text x="418.62" y="587.60" font-family='"Liberation Sans", sans-serif' font-size="13.90" font-weight="bold" text-anchor="middle" fill="#333" stroke="#333" stroke-width="0.20" >0.9</text>
<line x1="449.25" y1="568.80" x2="449.25" y2="573.30" stroke="#666" stroke-width="1.50" />
<text x="449.44" y="587.60" font-family='"Liberation Sans", sans-serif' font-size="13.90" font-weight="bold" text-anchor="middle" fill="#333" stroke="#333" stroke-width="0.20" >1.0</text>
<line x1="480.08" y1="568.80" x2="480.08" y2="573.30" stroke="#666" stroke-width="1.50" />
<text x="480.28" y="587.60" font-family='"Liberation Sans", sans-serif' font-size="13.90" font-weight="bold" text-anchor="middle" fill="#333" stroke="#333" stroke-width="0.20" >1.1</text>
<line x1="510.90" y1="568.80" x2="510.90" y2="573.30" stroke="#666" stroke-width="1.50" />
<text x="511.10" y="587.60" font-family='"Liberation Sans", sans-serif' font-size="13.90" font-weight="bold" text-anchor="middle" fill="#333" stroke="#333" stroke-width="0.20" >1.2</text>
<line x1="541.74" y1="568.80" x2="541.74" y2="573.30" stroke="#666" stroke-width="1.50" />
<text x="541.94" y="587.60" font-family='"Liberation Sans", sans-serif' font-size="13.90" font-weight="bold" text-anchor="middle" fill="#333" stroke="#333" stroke-width="0.20" >1.3</text>
<line x1="572.57" y1="568.80" x2="572.57" y2="573.30" stroke="#666" stroke-width="1.50" />
<text x="572.77" y="587.60" font-family='"Liberation Sans", sans-serif' font-size="13.90" font-weight="bold" text-anchor="middle" fill="#333" stroke="#333" stroke-width="0.20" >1.4</text>
<line x1="603.39" y1="568.80" x2="603.39" y2="573.30" stroke="#666" stroke-width="1.50" />
<text x="603.60" y="587.60" font-family='"Liberation Sans", sans-serif' font-size="13.90" font-weight="bold" text-anchor="middle" fill="#333" stroke="#333" stroke-width="0.20" >1.5</text>
<line x1="634.23" y1="568.80" x2="634.23" y2="573.30" stroke="#666" stroke-width="1.50" />
<text x="634.43" y="587.60" font-family='"Liberation Sans", sans-serif' font-size="13.90" font-weight="bold" text-anchor="middle" fill="#333" stroke="#333" stroke-width="0.20" >1.6</text>
<line x1="665.06" y1="568.80" x2="665.06" y2="573.30" stroke="#666" stroke-width="1.50" />
<text x="665.26" y="587.60" font-family='"Liberation Sans", sans-serif' font-size="13.90" font-weight="bold" text-anchor="middle" fill="#333" stroke="#333" stroke-width="0.20" >1.7</text>
<line x1="433.83" y1="568.80" x2="433.83" y2="571.30" stroke="#666" stroke-width="1.30" />
<line x1="464.66" y1="568.80" x2="464.66" y2="571.30" stroke="#666" stroke-width="1.30" />
<line x1="495.49" y1="568.80" x2="495.49" y2="571.30" stroke="#666" stroke-width="1.30" />
<line x1="526.32" y1="568.80" x2="526.32" y2="571.30" stroke="#666" stroke-width="1.30" />
<line x1="557.15" y1="568.80" x2="557.15" y2="571.30" stroke="#666" stroke-width="1.30" />
<line x1="587.98" y1="568.80" x2="587.98" y2="571.30" stroke="#666" stroke-width="1.30" />
<line x1="618.81" y1="568.80" x2="618.81" y2="571.30" stroke="#666" stroke-width="1.30" />
<line x1="649.64" y1="568.80" x2="649.64" y2="571.30" stroke="#666" stroke-width="1.30" />
<line x1="680.47" y1="568.80" x2="680.47" y2="571.30" stroke="#666" stroke-width="1.30" />
<text x="545.00" y="606.80" font-family='"Liberation Sans", sans-serif' font-size="13.80" font-weight="bold" text-anchor="middle" fill="#333" textLength="136.00" lengthAdjust="spacingAndGlyphs" >Log scan rate (mV/s)</text>
<text x="0.00" y="0.00" font-family='"Liberation Serif", serif' font-size="16.20" font-weight="bold" text-anchor="middle" fill="#222" textLength="92.00" lengthAdjust="spacingAndGlyphs" stroke="#222" stroke-width="0.30" transform="translate(366.4,452.9) rotate(-90)">Current (μA)</text>
<text x="426.70" y="358.00" font-family='"Liberation Sans", sans-serif' font-size="10.40" font-weight="bold" text-anchor="start" fill="#333" textLength="92.40" lengthAdjust="spacingAndGlyphs" >IPa=1.218 x + 0.181</text>
<text x="426.70" y="371.30" font-family='"Liberation Sans", sans-serif' font-size="10.40" font-weight="bold" text-anchor="start" fill="#333" textLength="48.80" lengthAdjust="spacingAndGlyphs" >R<tspan font-size="7" dy="-4">2</tspan><tspan dy="4">=0.9154</tspan></text>
<text x="425.60" y="508.00" font-family='"Liberation Sans", sans-serif' font-size="10.40" font-weight="bold" text-anchor="start" fill="#333" textLength="94.10" lengthAdjust="spacingAndGlyphs" >IPc=-37.357 x + 19.7</text>
<text x="425.60" y="527.00" font-family='"Liberation Sans", sans-serif' font-size="10.40" font-weight="bold" text-anchor="start" fill="#333" textLength="49.90" lengthAdjust="spacingAndGlyphs" >R<tspan font-size="8.5" dy="-5">2</tspan><tspan dy="5">=0.8794</tspan></text>
<text x="380.50" y="681.00" font-family='"Liberation Sans", sans-serif' font-size="28.00" font-weight="normal" text-anchor="middle" fill="#000" stroke="#000" stroke-width="1.00" >e</text>
<line x1="282.28" y1="785.95" x2="511.66" y2="713.45" stroke="#444" stroke-width="2.20" />
<line x1="282.28" y1="852.33" x2="511.66" y2="911.57" stroke="#f03a3a" stroke-width="2.40" />
<rect x="283.6" y="852.3" width="2.4" height="2.4" fill="#222"/>
<rect x="280.08" y="784.43" width="4.4" height="4.4" fill="#444"/>
<circle cx="282.28" cy="855.99" r="2.7" fill="#f0282d"/>
<rect x="356.54" y="761.31" width="4.4" height="4.4" fill="#444"/>
<circle cx="358.74" cy="869.28" r="2.7" fill="#f0282d"/>
<rect x="401.27" y="743.97" width="4.4" height="4.4" fill="#444"/>
<circle cx="403.47" cy="882.00" r="2.7" fill="#f0282d"/>
<rect x="433.00" y="738.19" width="4.4" height="4.4" fill="#444"/>
<circle cx="435.20" cy="888.94" r="2.7" fill="#f0282d"/>
<rect x="457.62" y="728.36" width="4.4" height="4.4" fill="#444"/>
<circle cx="459.82" cy="897.61" r="2.7" fill="#f0282d"/>
<rect x="477.73" y="723.74" width="4.4" height="4.4" fill="#444"/>
<circle cx="479.93" cy="901.65" r="2.7" fill="#f0282d"/>
<rect x="494.73" y="717.38" width="4.4" height="4.4" fill="#444"/>
<circle cx="496.93" cy="908.01" r="2.7" fill="#f0282d"/>
<rect x="509.46" y="707.56" width="4.4" height="4.4" fill="#444"/>
<circle cx="511.66" cy="916.68" r="2.7" fill="#f0282d"/>
<rect x="257.40" y="693.90" width="279.40" height="232.60" fill="none" stroke="#333" stroke-width="2.30"/>
<line x1="252.40" y1="882.00" x2="257.40" y2="882.00" stroke="#333" stroke-width="1.60" />
<text x="250.50" y="887.20" font-family='"Liberation Sans", sans-serif' font-size="14.50" font-weight="bold" text-anchor="end" fill="#333" >0.1</text>
<line x1="252.40" y1="824.20" x2="257.40" y2="824.20" stroke="#333" stroke-width="1.60" />
<text x="250.50" y="829.40" font-family='"Liberation Sans", sans-serif' font-size="14.50" font-weight="bold" text-anchor="end" fill="#333" >0.2</text>
<line x1="252.40" y1="766.40" x2="257.40" y2="766.40" stroke="#333" stroke-width="1.60" />
<text x="250.50" y="771.60" font-family='"Liberation Sans", sans-serif' font-size="14.50" font-weight="bold" text-anchor="end" fill="#333" >0.3</text>
<line x1="252.40" y1="708.60" x2="257.40" y2="708.60" stroke="#333" stroke-width="1.60" />
<text x="250.50" y="713.80" font-family='"Liberation Sans", sans-serif' font-size="14.50" font-weight="bold" text-anchor="end" fill="#333" >0.4</text>
<line x1="254.90" y1="910.90" x2="257.40" y2="910.90" stroke="#333" stroke-width="1.30" />
<line x1="254.90" y1="853.10" x2="257.40" y2="853.10" stroke="#333" stroke-width="1.30" />
<line x1="254.90" y1="795.30" x2="257.40" y2="795.30" stroke="#333" stroke-width="1.30" />
<line x1="254.90" y1="737.50" x2="257.40" y2="737.50" stroke="#333" stroke-width="1.30" />
<line x1="333.60" y1="926.50" x2="333.60" y2="931.50" stroke="#333" stroke-width="1.60" />
<text x="333.60" y="946.30" font-family='"Liberation Sans", sans-serif' font-size="14.00" font-weight="bold" text-anchor="middle" fill="#333" >1.6</text>
<line x1="435.20" y1="926.50" x2="435.20" y2="931.50" stroke="#333" stroke-width="1.60" />
<text x="435.20" y="946.30" font-family='"Liberation Sans", sans-serif' font-size="14.00" font-weight="bold" text-anchor="middle" fill="#333" >2.0</text>
<line x1="536.80" y1="926.50" x2="536.80" y2="931.50" stroke="#333" stroke-width="1.60" />
<text x="536.80" y="946.30" font-family='"Liberation Sans", sans-serif' font-size="14.00" font-weight="bold" text-anchor="middle" fill="#333" >2.4</text>
<line x1="282.80" y1="926.50" x2="282.80" y2="929.00" stroke="#333" stroke-width="1.30" />
<line x1="384.40" y1="926.50" x2="384.40" y2="929.00" stroke="#333" stroke-width="1.30" />
<line x1="486.00" y1="926.50" x2="486.00" y2="929.00" stroke="#333" stroke-width="1.30" />
<text x="376.70" y="970.30" font-family='"Liberation Sans", sans-serif' font-size="16.50" font-weight="bold" text-anchor="middle" fill="#222" textLength="158.40" lengthAdjust="spacingAndGlyphs" >Log scan rate (mV/s)</text>
<text x="0.00" y="0.00" font-family='"Liberation Serif", serif' font-size="16.00" font-weight="bold" text-anchor="middle" fill="#222" textLength="189.00" lengthAdjust="spacingAndGlyphs" stroke="#222" stroke-width="0.30" transform="translate(213.8,814.5) rotate(-90)">Potential (V) vs Ag/AgCl</text>
<line x1="266.40" y1="719.30" x2="295.30" y2="719.30" stroke="#444" stroke-width="1.80" />
<text x="295.00" y="725.00" font-family='"Liberation Sans", sans-serif' font-size="14.00" font-weight="bold" text-anchor="start" fill="#1a1a2a" textLength="25.00" lengthAdjust="spacingAndGlyphs" stroke="#1a1a2a" stroke-width="0.20" >Epa</text>
<text x="320.00" y="725.00" font-family='"Liberation Sans", sans-serif' font-size="12.60" font-weight="bold" text-anchor="start" fill="#2a2a2a" textLength="143.00" lengthAdjust="spacingAndGlyphs" stroke="#2a2a2a" stroke-width="0.25" >=0.1389 Log mV + 0.072</text>
<text x="299.50" y="745.00" font-family='"Liberation Sans", sans-serif' font-size="12.50" font-weight="bold" text-anchor="start" fill="#333" textLength="63.00" lengthAdjust="spacingAndGlyphs" >R<tspan font-size="11" dy="-5">2</tspan><tspan dy="5">=0.9892</tspan></text>
<line x1="259.60" y1="898.30" x2="282.10" y2="898.30" stroke="#f03a3a" stroke-width="2.00" />
<text x="282.30" y="905.70" font-family='"Liberation Sans", sans-serif' font-size="14.00" font-weight="bold" text-anchor="start" fill="#1a1a2a" textLength="25.50" lengthAdjust="spacingAndGlyphs" stroke="#1a1a2a" stroke-width="0.20" >Epc</text>
<text x="307.80" y="905.70" font-family='"Liberation Sans", sans-serif' font-size="12.60" font-weight="bold" text-anchor="start" fill="#2a2a2a" textLength="146.00" lengthAdjust="spacingAndGlyphs" stroke="#2a2a2a" stroke-width="0.25" >=-0.1135 Log mV + 0.310</text>
<text x="290.10" y="925.00" font-family='"Liberation Sans", sans-serif' font-size="12.50" font-weight="bold" text-anchor="start" fill="#333" textLength="61.10" lengthAdjust="spacingAndGlyphs" >R<tspan font-size="11" dy="-5">2</tspan><tspan dy="5">=0.9717</tspan></text>
</svg>
</body></html>
